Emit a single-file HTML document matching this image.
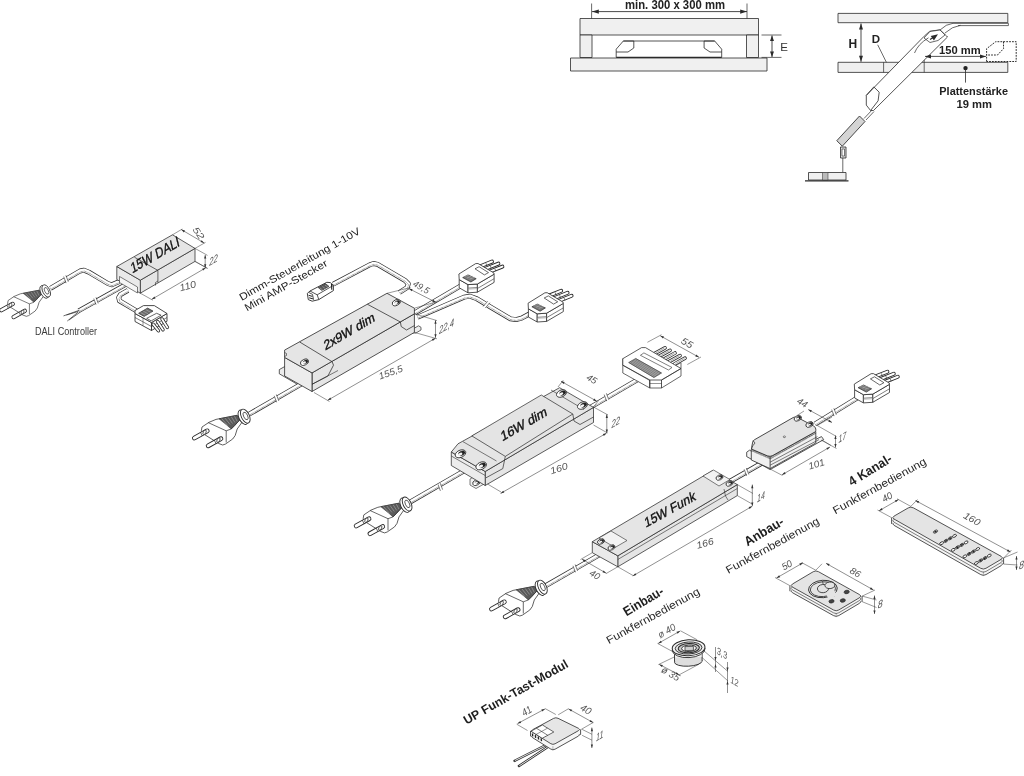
<!DOCTYPE html>
<html><head><meta charset="utf-8"><style>
html,body{margin:0;padding:0;background:#fff;}
svg{display:block;filter:grayscale(1);}
</style></head><body>
<svg width="1024" height="776" viewBox="0 0 1024 776" font-family="Liberation Sans, sans-serif">
<rect width="1024" height="776" fill="#fff"/>
<polygon points="580,18.5 758.5,18.5 758.5,35 580,35" fill="#f0f0f0" stroke="#2a2a2a" stroke-width="0.8" stroke-linejoin="round" />
<polygon points="580,35 592,35 592,57.5 580,57.5" fill="#f0f0f0" stroke="#2a2a2a" stroke-width="0.8" stroke-linejoin="round" />
<polygon points="746.5,35 758.5,35 758.5,57.5 746.5,57.5" fill="#f0f0f0" stroke="#2a2a2a" stroke-width="0.8" stroke-linejoin="round" />
<polygon points="570.5,58 767,58 767,71 570.5,71" fill="#f0f0f0" stroke="#2a2a2a" stroke-width="0.8" stroke-linejoin="round" />
<polyline points="616.2,57.4 616.2,49.2 623.3,41 714.7,41 721.7,49.2 721.7,57.4" fill="none" stroke="#2a2a2a" stroke-width="0.8" stroke-linejoin="round" />
<line x1="616.2" y1="57.4" x2="721.7" y2="57.4" stroke="#2a2a2a" stroke-width="1.4" />
<polyline points="623.3,41 633.8,41 633.8,48 628,52 616.2,52" fill="none" stroke="#2a2a2a" stroke-width="0.8" stroke-linejoin="round" />
<polyline points="714.7,41 704.1,41 704.1,48 710,52 721.7,52" fill="none" stroke="#2a2a2a" stroke-width="0.8" stroke-linejoin="round" />
<line x1="592" y1="11.6" x2="747" y2="11.6" stroke="#2a2a2a" stroke-width="0.85" />
<polygon points="747,11.6 740.2,13.7 740.2,9.5" fill="#2a2a2a"/>
<polygon points="592,11.6 598.8,9.5 598.8,13.7" fill="#2a2a2a"/>
<line x1="591.6" y1="3.5" x2="591.6" y2="18.5" stroke="#2a2a2a" stroke-width="0.7" />
<line x1="747" y1="3.5" x2="747" y2="18.5" stroke="#2a2a2a" stroke-width="0.7" />
<text x="625" y="8.5" font-family="Liberation Sans" font-size="12.6" font-weight="bold" font-style="normal" fill="#222" text-anchor="start" textLength="100" lengthAdjust="spacingAndGlyphs" >min. 300 x 300 mm</text>
<line x1="761.5" y1="35" x2="781.5" y2="35" stroke="#2a2a2a" stroke-width="0.7" />
<line x1="761.5" y1="57.4" x2="781.5" y2="57.4" stroke="#2a2a2a" stroke-width="0.7" />
<line x1="772" y1="35.5" x2="772" y2="57" stroke="#2a2a2a" stroke-width="0.85" />
<polygon points="772,57 770,51.5 774,51.5" fill="#2a2a2a"/>
<polygon points="772,35.5 774,41 770,41" fill="#2a2a2a"/>
<text x="780.2" y="51" font-family="Liberation Sans" font-size="11.5" font-weight="normal" font-style="normal" fill="#333" text-anchor="start" >E</text>
<polygon points="838,13.4 1007.8,13.4 1007.8,22.7 838,22.7" fill="#f0f0f0" stroke="#2a2a2a" stroke-width="0.8" stroke-linejoin="round" />
<polyline points="953,23.3 1008.4,23.3 1008.4,25.6 958,25.6" fill="none" stroke="#2a2a2a" stroke-width="0.7" stroke-linejoin="round" />
<polygon points="838,62.3 1007.8,62.3 1007.8,72.4 838,72.4" fill="#f0f0f0" stroke="#2a2a2a" stroke-width="0.8" stroke-linejoin="round" />
<line x1="883.6" y1="62.3" x2="883.6" y2="72.4" stroke="#2a2a2a" stroke-width="0.7" />
<line x1="924.2" y1="51.2" x2="924.2" y2="72.4" stroke="#2a2a2a" stroke-width="0.7" />
<polygon points="866.3,95.4 924.2,36.2 929.7,31.3 940,29.8 946.6,36 947.5,37 873.5,110.5 870.6,110.5 866.3,105.1" fill="#ffffff" stroke="#2a2a2a" stroke-width="0.8" stroke-linejoin="round" />
<polyline points="866.3,95.4 873.8,86.9 879.2,92.2 878.1,100.8 870.6,110.5" fill="none" stroke="#2a2a2a" stroke-width="0.8" stroke-linejoin="round" />
<polygon points="924,38 930,31.5 940,30 945,35 938,40.5 930,42.5" fill="#fff" stroke="#2a2a2a" stroke-width="0.7" stroke-linejoin="round" />
<polygon points="938,34.2 933.9,40.5 930.7,35.9" fill="#2a2a2a"/>
<line x1="930" y1="39.5" x2="934" y2="37" stroke="#2a2a2a" stroke-width="1.2" />
<path d="M914.5,53 Q918,44 928.5,37.8" fill="none" stroke="#2a2a2a" stroke-width="0.7" stroke-linejoin="round" />
<path d="M940,30 Q946,24 953,23.3" fill="none" stroke="#2a2a2a" stroke-width="0.7" stroke-linejoin="round" />
<path d="M945,33 Q952,26.5 960.5,25.3" fill="none" stroke="#2a2a2a" stroke-width="0.7" stroke-linejoin="round" />
<line x1="871.6" y1="110.5" x2="864" y2="118.5" stroke="#2a2a2a" stroke-width="0.7" />
<line x1="874" y1="111.5" x2="866" y2="120" stroke="#2a2a2a" stroke-width="0.7" />
<polygon points="859.5,116 865,121.5 842.3,146.2 836.8,140.7" fill="#d4d4d4" stroke="#2a2a2a" stroke-width="0.85" stroke-linejoin="round" />
<polygon points="840.5,147 846,147 846,158 840.5,158" fill="#ddd" stroke="#2a2a2a" stroke-width="0.8" stroke-linejoin="round" />
<polygon points="842,149 844.5,149 844.5,156 842,156" fill="#fff" stroke="#2a2a2a" stroke-width="0.6" stroke-linejoin="round" />
<line x1="842.8" y1="158" x2="842.8" y2="172.5" stroke="#2a2a2a" stroke-width="0.7" />
<polygon points="808.5,172.5 846,172.5 846,180 808.5,180" fill="#f0f0f0" stroke="#2a2a2a" stroke-width="0.8" stroke-linejoin="round" />
<polygon points="822.5,172.5 828,172.5 828,180 822.5,180" fill="#bbb" stroke="#2a2a2a" stroke-width="0.5" stroke-linejoin="round" />
<line x1="805" y1="180.8" x2="848.5" y2="180.8" stroke="#2a2a2a" stroke-width="1.2" />
<line x1="861" y1="23.5" x2="861" y2="61.8" stroke="#2a2a2a" stroke-width="0.85" />
<polygon points="861,61.8 859,55.8 863,55.8" fill="#2a2a2a"/>
<polygon points="861,23.5 863,29.5 859,29.5" fill="#2a2a2a"/>
<text x="848.4" y="48.2" font-family="Liberation Sans" font-size="12" font-weight="bold" font-style="normal" fill="#222" text-anchor="start" >H</text>
<text x="871.8" y="42.8" font-family="Liberation Sans" font-size="11.5" font-weight="bold" font-style="normal" fill="#222" text-anchor="start" >D</text>
<line x1="877.7" y1="44.8" x2="886.4" y2="62.3" stroke="#2a2a2a" stroke-width="0.7" />
<line x1="925" y1="56.4" x2="986" y2="56.4" stroke="#2a2a2a" stroke-width="0.8" />
<polygon points="986,56.4 980,58.4 980,54.4" fill="#2a2a2a"/>
<polygon points="925,56.4 931,54.4 931,58.4" fill="#2a2a2a"/>
<text x="939" y="54.4" font-family="Liberation Sans" font-size="11.2" font-weight="bold" font-style="normal" fill="#222" text-anchor="start" textLength="41.6" lengthAdjust="spacingAndGlyphs" >150 mm</text>
<polyline points="986.6,61.5 986.6,48.7 995.7,41.7 1016.2,41.7 1016.2,61.5 986.6,61.5" fill="none" stroke="#222" stroke-width="0.95" stroke-linejoin="round" stroke-dasharray="1.8,1.1"/>
<polyline points="1003.5,41.7 1003.5,48.7 997.5,55 986.6,55" fill="none" stroke="#222" stroke-width="0.95" stroke-linejoin="round" stroke-dasharray="1.8,1.1"/>
<circle cx="965.5" cy="68.1" r="2.2" fill="#222"/>
<line x1="965.5" y1="68.1" x2="965.5" y2="82.6" stroke="#2a2a2a" stroke-width="0.8" />
<text x="939.3" y="95.4" font-family="Liberation Sans" font-size="11.3" font-weight="bold" font-style="normal" fill="#222" text-anchor="start" textLength="68.7" lengthAdjust="spacingAndGlyphs" >Plattenstärke</text>
<text x="956.5" y="107.8" font-family="Liberation Sans" font-size="11.3" font-weight="bold" font-style="normal" fill="#222" text-anchor="start" textLength="35.5" lengthAdjust="spacingAndGlyphs" >19 mm</text>
<path d="M50.5,288.3 L80,271 L84,270.2 L88.9,272.2 L107.9,283.5 L111.7,284.8 L119.3,281.6" fill="none" stroke="#2a2a2a" stroke-width="4.9" stroke-linejoin="round" stroke-linecap="butt"/>
<path d="M50.5,288.3 L80,271 L84,270.2 L88.9,272.2 L107.9,283.5 L111.7,284.8 L119.3,281.6" fill="none" stroke="#fff" stroke-width="3.5" stroke-linejoin="round" stroke-linecap="butt"/>
<path d="M50.5,288.3 L80,271 L84,270.2 L88.9,272.2 L107.9,283.5 L111.7,284.8 L119.3,281.6" fill="none" stroke="#777" stroke-width="0.9" stroke-dasharray="0.8,0.6" stroke-linejoin="round" transform="translate(0.3,0.9)"/>
<polygon points="63.2,276.9 66.6,282.8 66.6,282.8 63.2,276.9" fill="none"/>
<polygon points="65.4,275.6 68.8,281.5 68.8,281.5 65.4,275.6" fill="none"/>
<polygon points="63.2,276.9 65.4,275.6 68.8,281.5 66.6,282.8" fill="#fff"/>
<line x1="63.7" y1="276.6" x2="66.1" y2="283.1" stroke="#2a2a2a" stroke-width="0.6" />
<line x1="65.9" y1="275.3" x2="68.3" y2="281.8" stroke="#2a2a2a" stroke-width="0.6" />
<path d="M127,283.8 L78.7,310.8" fill="none" stroke="#2a2a2a" stroke-width="4.5" stroke-linejoin="round" stroke-linecap="butt"/>
<path d="M127,283.8 L78.7,310.8" fill="none" stroke="#fff" stroke-width="3.1" stroke-linejoin="round" stroke-linecap="butt"/>
<path d="M127,283.8 L78.7,310.8" fill="none" stroke="#777" stroke-width="0.9" stroke-dasharray="0.8,0.6" stroke-linejoin="round" transform="translate(0.3,0.9)"/>
<polygon points="93.3,298.9 96.5,304.4 96.5,304.4 93.3,298.9" fill="none"/>
<polygon points="95.5,297.6 98.7,303.1 98.7,303.1 95.5,297.6" fill="none"/>
<polygon points="93.3,298.9 95.5,297.6 98.7,303.1 96.5,304.4" fill="#fff"/>
<line x1="93.8" y1="298.6" x2="96" y2="304.7" stroke="#2a2a2a" stroke-width="0.6" />
<line x1="96" y1="297.3" x2="98.2" y2="303.4" stroke="#2a2a2a" stroke-width="0.6" />
<line x1="79.5" y1="310.2" x2="63.5" y2="315.9" stroke="#2a2a2a" stroke-width="0.7" />
<line x1="78" y1="311.5" x2="66.5" y2="315" stroke="#2a2a2a" stroke-width="0.7" />
<line x1="78.5" y1="311.8" x2="67.3" y2="321" stroke="#2a2a2a" stroke-width="0.7" />
<line x1="80" y1="312.3" x2="69" y2="320" stroke="#2a2a2a" stroke-width="0.7" />
<path d="M128,290.3 L120.5,294.6 L118.7,297.5 L119.5,300.8 L137.5,311.5" fill="none" stroke="#2a2a2a" stroke-width="4.9" stroke-linejoin="round" stroke-linecap="butt"/>
<path d="M128,290.3 L120.5,294.6 L118.7,297.5 L119.5,300.8 L137.5,311.5" fill="none" stroke="#fff" stroke-width="3.5" stroke-linejoin="round" stroke-linecap="butt"/>
<path d="M128,290.3 L120.5,294.6 L118.7,297.5 L119.5,300.8 L137.5,311.5" fill="none" stroke="#777" stroke-width="0.9" stroke-dasharray="0.8,0.6" stroke-linejoin="round" transform="translate(0.3,0.9)"/>
<g transform="translate(45.7,291.7) scale(0.88)">
<polygon points="-42.7,10 -35.7,5.3 -28.7,2.4 -25.7,1.8 -7.6,-1.7 -2.5,5 -7.5,12 -9.5,18.5 -12,22 -19.3,27.1 -22,28 -26,26.5 -41,17 -43.3,13.5" fill="#fff" stroke="#2a2a2a" stroke-width="0.75" stroke-linejoin="round" />
<polygon points="-25.7,1.8 -7.6,-1.7 -4.5,2.5 -10,8.5 -13.5,12 -18,8" fill="#5a5a5a" stroke="#2a2a2a" stroke-width="0.5" stroke-linejoin="round" />
<line x1="-23" y1="1.6" x2="-17" y2="8.5" stroke="#bbb" stroke-width="0.5" />
<line x1="-19.8" y1="1" x2="-14.6" y2="7.5" stroke="#bbb" stroke-width="0.5" />
<line x1="-16.6" y1="0.4" x2="-12.2" y2="6.5" stroke="#bbb" stroke-width="0.5" />
<line x1="-13.4" y1="-0.2" x2="-9.8" y2="5.5" stroke="#bbb" stroke-width="0.5" />
<line x1="-10.2" y1="-0.8" x2="-7.4" y2="4.5" stroke="#bbb" stroke-width="0.5" />
<polyline points="-36.5,5.6 -18.5,13.8 -13.5,12" fill="none" stroke="#2a2a2a" stroke-width="0.7" stroke-linejoin="round" />
<line x1="-18.5" y1="13.8" x2="-18.5" y2="25.5" stroke="#2a2a2a" stroke-width="0.7" />
<polyline points="-13.5,12 -10,8.5 -4.5,2.5" fill="none" stroke="#2a2a2a" stroke-width="0.7" stroke-linejoin="round" />
<ellipse cx="-1.6" cy="0.2" rx="4.2" ry="7.8" transform="rotate(-26 -1.6 0.2)" fill="#fff" stroke="#2a2a2a" stroke-width="0.9"/>
<ellipse cx="0.6" cy="-0.9" rx="4" ry="7.5" transform="rotate(-26 0.6 -0.9)" fill="#fff" stroke="#2a2a2a" stroke-width="0.9"/>
<ellipse cx="0.9" cy="-1" rx="2" ry="4.1" transform="rotate(-26 0.9 -1)" fill="#fff" stroke="#2a2a2a" stroke-width="0.7"/>
<line x1="-50.3" y1="21" x2="-37.5" y2="13.9" stroke="#2a2a2a" stroke-width="4.8" stroke-linecap="round"/>
<line x1="-50.3" y1="21" x2="-37.5" y2="13.9" stroke="#fff" stroke-width="3.0" stroke-linecap="round"/>
<line x1="-44.2" y1="15.2" x2="-42.4" y2="19" stroke="#2a2a2a" stroke-width="0.7" />
<ellipse cx="-40.1" cy="15.3" rx="1.3" ry="2.5" transform="rotate(28 -40.1 15.3)" fill="#fff" stroke="#2a2a2a" stroke-width="0.7"/>
<line x1="-36.5" y1="28.8" x2="-23.8" y2="21.7" stroke="#2a2a2a" stroke-width="4.8" stroke-linecap="round"/>
<line x1="-36.5" y1="28.8" x2="-23.8" y2="21.7" stroke="#fff" stroke-width="3.0" stroke-linecap="round"/>
<line x1="-30.4" y1="23" x2="-28.6" y2="26.8" stroke="#2a2a2a" stroke-width="0.7" />
<ellipse cx="-26.3" cy="23.1" rx="1.3" ry="2.5" transform="rotate(28 -26.3 23.1)" fill="#fff" stroke="#2a2a2a" stroke-width="0.7"/>
</g>
<polygon points="140.3,280.2 195,248.4 195,261.4 140.3,293.2" fill="#e5e5e5" stroke="#2a2a2a" stroke-width="0.75" stroke-linejoin="round" />
<polygon points="116.8,266.5 140.3,280.2 140.3,293.2 116.8,279.5" fill="#eaeaea" stroke="#2a2a2a" stroke-width="0.75" stroke-linejoin="round" />
<polygon points="116.8,266.5 172.5,234.8 195,248.4 140.3,280.2" fill="#e5e5e5" stroke="#2a2a2a" stroke-width="0.75" stroke-linejoin="round" />
<polygon points="119.5,276.5 137.5,287 137.5,293 119.5,282.5" fill="#f6f6f6" stroke="#2a2a2a" stroke-width="0.6" stroke-linejoin="round" />
<line x1="134.4" y1="257.2" x2="157.9" y2="270.4" stroke="#2a2a2a" stroke-width="0.7" />
<line x1="157.9" y1="270.4" x2="157.9" y2="282.6" stroke="#2a2a2a" stroke-width="0.7" />
<polyline points="157.9,281 155.5,282.5 155.5,285.5" fill="none" stroke="#2a2a2a" stroke-width="0.6" stroke-linejoin="round" />
<text x="132.2" y="273.5" font-family="Liberation Sans" font-size="13.7" font-weight="normal" font-style="normal" fill="#111" text-anchor="start" textLength="55.5" lengthAdjust="spacingAndGlyphs" transform="translate(132.2,273.5) rotate(-30.1) skewX(-16) translate(-132.2,-273.5)" stroke="#111" stroke-width="0.35">15W DALI</text>
<polygon points="135,313.5 151.5,322.5 151.5,330.5 135,321.5" fill="#fff" stroke="#2a2a2a" stroke-width="0.85" stroke-linejoin="round" />
<polygon points="151.5,322.5 167,313.5 167,321.3 151.5,330.5" fill="#fff" stroke="#2a2a2a" stroke-width="0.85" stroke-linejoin="round" />
<polygon points="135,310.5 143.5,305.6 154.3,305.6 167,313.5 151.5,322.5 135,313.5" fill="#fff" stroke="#2a2a2a" stroke-width="0.85" stroke-linejoin="round" />
<polygon points="138.6,313.3 147.6,308.1 153,311.1 144.2,316.4" fill="#6e6e6e" stroke="#2a2a2a" stroke-width="0.7" stroke-linejoin="round" />
<line x1="140.6" y1="312.6" x2="145.6" y2="315.4" stroke="#ccc" stroke-width="0.45" />
<line x1="143.2" y1="311.1" x2="148.2" y2="313.9" stroke="#ccc" stroke-width="0.45" />
<line x1="145.8" y1="309.6" x2="150.8" y2="312.4" stroke="#ccc" stroke-width="0.45" />
<polygon points="146.7,318.3 156.6,313.3 161.1,315.2 151.2,320.9" fill="#fff" stroke="#2a2a2a" stroke-width="0.7" stroke-linejoin="round" />
<line x1="135" y1="317.5" x2="151.5" y2="326.5" stroke="#2a2a2a" stroke-width="0.6" />
<line x1="151.5" y1="326.5" x2="167" y2="317.5" stroke="#2a2a2a" stroke-width="0.6" />
<line x1="143" y1="318" x2="143" y2="325.6" stroke="#2a2a2a" stroke-width="0.5" />
<line x1="153.2" y1="324.2" x2="158.4" y2="330.8" stroke="#2a2a2a" stroke-width="3.4" stroke-linecap="round"/>
<line x1="153.2" y1="324.2" x2="158.4" y2="330.8" stroke="#fff" stroke-width="1.8" stroke-linecap="round"/>
<line x1="157.6" y1="321.6" x2="163.0" y2="329.8" stroke="#2a2a2a" stroke-width="3.4" stroke-linecap="round"/>
<line x1="157.6" y1="321.6" x2="163.0" y2="329.8" stroke="#fff" stroke-width="1.8" stroke-linecap="round"/>
<line x1="162.0" y1="319.0" x2="167.4" y2="327.4" stroke="#2a2a2a" stroke-width="3.4" stroke-linecap="round"/>
<line x1="162.0" y1="319.0" x2="167.4" y2="327.4" stroke="#fff" stroke-width="1.8" stroke-linecap="round"/>
<line x1="172.5" y1="234.8" x2="182.3" y2="229" stroke="#333" stroke-width="0.5" />
<line x1="195" y1="248.4" x2="205.5" y2="242.4" stroke="#333" stroke-width="0.5" />
<line x1="181.3" y1="229.6" x2="204.2" y2="243" stroke="#333" stroke-width="0.55" />
<polygon points="204.2,243 200.5,242.1 201.6,240.2" fill="#333"/>
<polygon points="181.3,229.6 185,230.5 183.9,232.4" fill="#333"/>
<text x="192.3" y="229.4" font-family="Liberation Sans" font-size="9.1" font-weight="normal" font-style="italic" fill="#555" text-anchor="start" textLength="13.2" lengthAdjust="spacingAndGlyphs" transform="rotate(56 192.3 229.4)" >52</text>
<line x1="195" y1="248.4" x2="207.5" y2="255.4" stroke="#333" stroke-width="0.5" />
<line x1="195" y1="261.4" x2="207.5" y2="268.4" stroke="#333" stroke-width="0.5" />
<line x1="205.2" y1="255" x2="205.2" y2="267.8" stroke="#333" stroke-width="0.55" />
<polygon points="205.2,267.8 204.1,264.2 206.3,264.2" fill="#333"/>
<polygon points="205.2,255 206.3,258.6 204.1,258.6" fill="#333"/>
<text x="209.3" y="266" font-family="Liberation Sans" font-size="10.6" font-style="italic" fill="#555" textLength="8.6" lengthAdjust="spacingAndGlyphs" transform="translate(209.3,266) skewY(-30) translate(-209.3,-266)">22</text>
<line x1="140.3" y1="293.2" x2="152.8" y2="300.2" stroke="#333" stroke-width="0.5" />
<line x1="195" y1="261.4" x2="207.5" y2="268.4" stroke="#333" stroke-width="0.5" />
<line x1="151.8" y1="299.3" x2="205.8" y2="267.8" stroke="#333" stroke-width="0.55" />
<polygon points="205.8,267.8 203.2,270.6 202.1,268.7" fill="#333"/>
<polygon points="151.8,299.3 154.4,296.5 155.5,298.4" fill="#333"/>
<text x="180.5" y="291.2" font-family="Liberation Sans" font-size="9.7" font-weight="normal" font-style="italic" fill="#555" text-anchor="start" textLength="16.8" lengthAdjust="spacingAndGlyphs" transform="rotate(-14.9 180.5 291.2)" >110</text>
<text x="34.9" y="334.9" font-family="Liberation Sans" font-size="10.6" font-weight="normal" font-style="normal" fill="#3a3a3a" text-anchor="start" textLength="62.2" lengthAdjust="spacingAndGlyphs" >DALI Controller</text>
<path d="M248.5,414.5 L304,382.5" fill="none" stroke="#2a2a2a" stroke-width="4.9" stroke-linejoin="round" stroke-linecap="butt"/>
<path d="M248.5,414.5 L304,382.5" fill="none" stroke="#fff" stroke-width="3.5" stroke-linejoin="round" stroke-linecap="butt"/>
<path d="M248.5,414.5 L304,382.5" fill="none" stroke="#777" stroke-width="0.9" stroke-dasharray="0.8,0.6" stroke-linejoin="round" transform="translate(0.3,0.9)"/>
<polygon points="273.7,396.1 277.1,402 277.1,402 273.7,396.1" fill="none"/>
<polygon points="275.9,394.8 279.3,400.7 279.3,400.7 275.9,394.8" fill="none"/>
<polygon points="273.7,396.1 275.9,394.8 279.3,400.7 277.1,402" fill="#fff"/>
<line x1="274.2" y1="395.8" x2="276.6" y2="402.3" stroke="#2a2a2a" stroke-width="0.6" />
<line x1="276.4" y1="394.5" x2="278.8" y2="401" stroke="#2a2a2a" stroke-width="0.6" />
<path d="M333.2,284.2 L369.7,264.8 L373.5,263.5 L377.5,264.3 L404.8,280.3 L408.3,283.8 L407.2,287.5 L399.4,292.5" fill="none" stroke="#2a2a2a" stroke-width="4.9" stroke-linejoin="round" stroke-linecap="butt"/>
<path d="M333.2,284.2 L369.7,264.8 L373.5,263.5 L377.5,264.3 L404.8,280.3 L408.3,283.8 L407.2,287.5 L399.4,292.5" fill="none" stroke="#fff" stroke-width="3.5" stroke-linejoin="round" stroke-linecap="butt"/>
<path d="M333.2,284.2 L369.7,264.8 L373.5,263.5 L377.5,264.3 L404.8,280.3 L408.3,283.8 L407.2,287.5 L399.4,292.5" fill="none" stroke="#777" stroke-width="0.9" stroke-dasharray="0.8,0.6" stroke-linejoin="round" transform="translate(0.3,0.9)"/>
<path d="M414.8,312.8 L461.3,285.5" fill="none" stroke="#2a2a2a" stroke-width="4.9" stroke-linejoin="round" stroke-linecap="butt"/>
<path d="M414.8,312.8 L461.3,285.5" fill="none" stroke="#fff" stroke-width="3.5" stroke-linejoin="round" stroke-linecap="butt"/>
<path d="M414.8,312.8 L461.3,285.5" fill="none" stroke="#777" stroke-width="0.9" stroke-dasharray="0.8,0.6" stroke-linejoin="round" transform="translate(0.3,0.9)"/>
<path d="M417.6,317.2 L464,297.2 L470,296.2 L477,298.8 L491.9,307.8 L510.5,318.8 L516,319.6 L521.5,318.2 L531.2,313" fill="none" stroke="#2a2a2a" stroke-width="4.9" stroke-linejoin="round" stroke-linecap="butt"/>
<path d="M417.6,317.2 L464,297.2 L470,296.2 L477,298.8 L491.9,307.8 L510.5,318.8 L516,319.6 L521.5,318.2 L531.2,313" fill="none" stroke="#fff" stroke-width="3.5" stroke-linejoin="round" stroke-linecap="butt"/>
<path d="M417.6,317.2 L464,297.2 L470,296.2 L477,298.8 L491.9,307.8 L510.5,318.8 L516,319.6 L521.5,318.2 L531.2,313" fill="none" stroke="#777" stroke-width="0.9" stroke-dasharray="0.8,0.6" stroke-linejoin="round" transform="translate(0.3,0.9)"/>
<polygon points="487.1,301 483.6,306.8 483.6,306.8 487.1,301" fill="none"/>
<polygon points="489.4,302.4 485.9,308.2 485.9,308.2 489.4,302.4" fill="none"/>
<polygon points="487.1,301 489.4,302.4 485.9,308.2 483.6,306.8" fill="#fff"/>
<line x1="487.7" y1="301.3" x2="483.1" y2="306.5" stroke="#2a2a2a" stroke-width="0.6" />
<line x1="489.9" y1="302.7" x2="485.3" y2="307.9" stroke="#2a2a2a" stroke-width="0.6" />
<g transform="translate(244.7,417) scale(1.0)">
<polygon points="-42.7,10 -35.7,5.3 -28.7,2.4 -25.7,1.8 -7.6,-1.7 -2.5,5 -7.5,12 -9.5,18.5 -12,22 -19.3,27.1 -22,28 -26,26.5 -41,17 -43.3,13.5" fill="#fff" stroke="#2a2a2a" stroke-width="0.75" stroke-linejoin="round" />
<polygon points="-25.7,1.8 -7.6,-1.7 -4.5,2.5 -10,8.5 -13.5,12 -18,8" fill="#5a5a5a" stroke="#2a2a2a" stroke-width="0.5" stroke-linejoin="round" />
<line x1="-23" y1="1.6" x2="-17" y2="8.5" stroke="#bbb" stroke-width="0.5" />
<line x1="-19.8" y1="1" x2="-14.6" y2="7.5" stroke="#bbb" stroke-width="0.5" />
<line x1="-16.6" y1="0.4" x2="-12.2" y2="6.5" stroke="#bbb" stroke-width="0.5" />
<line x1="-13.4" y1="-0.2" x2="-9.8" y2="5.5" stroke="#bbb" stroke-width="0.5" />
<line x1="-10.2" y1="-0.8" x2="-7.4" y2="4.5" stroke="#bbb" stroke-width="0.5" />
<polyline points="-36.5,5.6 -18.5,13.8 -13.5,12" fill="none" stroke="#2a2a2a" stroke-width="0.7" stroke-linejoin="round" />
<line x1="-18.5" y1="13.8" x2="-18.5" y2="25.5" stroke="#2a2a2a" stroke-width="0.7" />
<polyline points="-13.5,12 -10,8.5 -4.5,2.5" fill="none" stroke="#2a2a2a" stroke-width="0.7" stroke-linejoin="round" />
<ellipse cx="-1.6" cy="0.2" rx="4.2" ry="7.8" transform="rotate(-26 -1.6 0.2)" fill="#fff" stroke="#2a2a2a" stroke-width="0.9"/>
<ellipse cx="0.6" cy="-0.9" rx="4" ry="7.5" transform="rotate(-26 0.6 -0.9)" fill="#fff" stroke="#2a2a2a" stroke-width="0.9"/>
<ellipse cx="0.9" cy="-1" rx="2" ry="4.1" transform="rotate(-26 0.9 -1)" fill="#fff" stroke="#2a2a2a" stroke-width="0.7"/>
<line x1="-50.3" y1="21" x2="-37.5" y2="13.9" stroke="#2a2a2a" stroke-width="4.8" stroke-linecap="round"/>
<line x1="-50.3" y1="21" x2="-37.5" y2="13.9" stroke="#fff" stroke-width="3.0" stroke-linecap="round"/>
<line x1="-44.2" y1="15.2" x2="-42.4" y2="19" stroke="#2a2a2a" stroke-width="0.7" />
<ellipse cx="-40.1" cy="15.3" rx="1.3" ry="2.5" transform="rotate(28 -40.1 15.3)" fill="#fff" stroke="#2a2a2a" stroke-width="0.7"/>
<line x1="-36.5" y1="28.8" x2="-23.8" y2="21.7" stroke="#2a2a2a" stroke-width="4.8" stroke-linecap="round"/>
<line x1="-36.5" y1="28.8" x2="-23.8" y2="21.7" stroke="#fff" stroke-width="3.0" stroke-linecap="round"/>
<line x1="-30.4" y1="23" x2="-28.6" y2="26.8" stroke="#2a2a2a" stroke-width="0.7" />
<ellipse cx="-26.3" cy="23.1" rx="1.3" ry="2.5" transform="rotate(28 -26.3 23.1)" fill="#fff" stroke="#2a2a2a" stroke-width="0.7"/>
</g>
<polygon points="279.3,369.6 284.6,366.6 301.5,376.4 301.5,381 296.5,383.8 279.3,373.8" fill="#ececec" stroke="#2a2a2a" stroke-width="0.75" stroke-linejoin="round" />
<polygon points="290.2,373.2 292.4,371.9 296.2,374.1 294,375.4" fill="#fff" stroke="#2a2a2a" stroke-width="0.6" stroke-linejoin="round" />
<polygon points="412,329.5 418.5,325.8 421,327.3 421,330 416,333 412,333" fill="#ececec" stroke="#2a2a2a" stroke-width="0.7" stroke-linejoin="round" />
<polygon points="312,372.9 414.4,313.8 414.4,332.4 312,391.5" fill="#e5e5e5" stroke="#2a2a2a" stroke-width="0.8" stroke-linejoin="round" />
<polygon points="284.6,357.4 312,372.9 312,391.5 284.6,376" fill="#ececec" stroke="#2a2a2a" stroke-width="0.8" stroke-linejoin="round" />
<polygon points="284.6,350.1 387,293.3 414.4,308.2 414.4,313.8 312,372.9 284.6,357.4" fill="#e5e5e5" stroke="#2a2a2a" stroke-width="0.8" stroke-linejoin="round" />
<line x1="299.7" y1="342" x2="332.1" y2="361.7" stroke="#2a2a2a" stroke-width="0.75" />
<line x1="367.3" y1="304.2" x2="400.4" y2="322" stroke="#2a2a2a" stroke-width="0.75" />
<polyline points="332.1,361.7 333.5,365.2 327.9,376 312,384.3" fill="none" stroke="#2a2a2a" stroke-width="0.75" stroke-linejoin="round" />
<polyline points="400.4,322 401.2,326.5 406.5,330 414.4,325.6" fill="none" stroke="#2a2a2a" stroke-width="0.75" stroke-linejoin="round" />
<line x1="312" y1="384.3" x2="338" y2="370.5" stroke="#2a2a2a" stroke-width="0.6" />
<polyline points="284.6,352.5 286.5,353.5 286.5,355.5 284.6,356.5" fill="none" stroke="#2a2a2a" stroke-width="0.6" stroke-linejoin="round" />
<ellipse cx="304.5" cy="362.2" rx="4.3" ry="2.8" transform="rotate(-25 304.5 362.2)" fill="#fff" stroke="#2a2a2a" stroke-width="0.8"/>
<ellipse cx="305.5" cy="361.8" rx="2.7" ry="1.7" transform="rotate(-25 305.5 361.8)" fill="#222" stroke="#2a2a2a" stroke-width="0.3"/>
<ellipse cx="304.3" cy="362.5" rx="1.8" ry="1.1" transform="rotate(-25 304.3 362.5)" fill="#f4f4f4" stroke="#2a2a2a" stroke-width="0"/>
<ellipse cx="396.3" cy="302.6" rx="4.3" ry="2.8" transform="rotate(-25 396.3 302.6)" fill="#fff" stroke="#2a2a2a" stroke-width="0.8"/>
<ellipse cx="397.3" cy="302.2" rx="2.7" ry="1.7" transform="rotate(-25 397.3 302.2)" fill="#222" stroke="#2a2a2a" stroke-width="0.3"/>
<ellipse cx="396.1" cy="302.9" rx="1.8" ry="1.1" transform="rotate(-25 396.1 302.9)" fill="#f4f4f4" stroke="#2a2a2a" stroke-width="0"/>
<text x="325.2" y="350.6" font-family="Liberation Sans" font-size="12.6" font-weight="normal" font-style="normal" fill="#111" text-anchor="start" textLength="58.4" lengthAdjust="spacingAndGlyphs" transform="translate(325.2,350.6) rotate(-30.9) skewX(-16) translate(-325.2,-350.6)" stroke="#111" stroke-width="0.35">2x9W dim</text>
<polygon points="307.3,293.4 310,291 326.8,282.3 330.3,282.6 333.4,285.4 333.4,290.6 318.8,299.6 312.2,301.2 308.3,299.6" fill="#fff" stroke="#2a2a2a" stroke-width="0.9" stroke-linejoin="round" />
<polyline points="310,291 317.2,294.8 333.4,285.4" fill="none" stroke="#2a2a2a" stroke-width="0.8" stroke-linejoin="round" />
<line x1="317.2" y1="294.8" x2="318.8" y2="299.6" stroke="#2a2a2a" stroke-width="0.8" />
<polygon points="318.2,287.6 325.4,283.6 329,286.4 321.8,290.4" fill="#5a5a5a" stroke="#2a2a2a" stroke-width="0.6" stroke-linejoin="round" />
<line x1="319.8" y1="287.9" x2="322.8" y2="290.1" stroke="#ccc" stroke-width="0.45" />
<line x1="322.4" y1="286.5" x2="325.4" y2="288.7" stroke="#ccc" stroke-width="0.45" />
<line x1="325" y1="285.1" x2="328" y2="287.3" stroke="#ccc" stroke-width="0.45" />
<polyline points="309,292.6 312.5,294.4 313.6,299.8" fill="none" stroke="#2a2a2a" stroke-width="0.8" stroke-linejoin="round" />
<line x1="308.6" y1="295.3" x2="312.4" y2="296.4" stroke="#222" stroke-width="1.0" />
<line x1="309.2" y1="297.8" x2="313" y2="298.9" stroke="#222" stroke-width="1.0" />
<line x1="331.5" y1="283.9" x2="331.8" y2="289.8" stroke="#222" stroke-width="1.1" />
<g transform="translate(458.9,274) scale(1.0)">
<line x1="21.5" y1="-7.8" x2="33.1" y2="-12.4" stroke="#2a2a2a" stroke-width="3.9" stroke-linecap="round"/>
<line x1="21.5" y1="-7.8" x2="33.1" y2="-12.4" stroke="#fff" stroke-width="2.1" stroke-linecap="round"/>
<line x1="27" y1="-10.8" x2="27.9" y2="-8.4" stroke="#2a2a2a" stroke-width="0.6" />
<line x1="26" y1="-5" x2="39.5" y2="-10.4" stroke="#2a2a2a" stroke-width="3.9" stroke-linecap="round"/>
<line x1="26" y1="-5" x2="39.5" y2="-10.4" stroke="#fff" stroke-width="2.1" stroke-linecap="round"/>
<line x1="31.5" y1="-8" x2="32.4" y2="-5.6" stroke="#2a2a2a" stroke-width="0.6" />
<line x1="30.5" y1="-2.2" x2="43.5" y2="-7.4" stroke="#2a2a2a" stroke-width="3.9" stroke-linecap="round"/>
<line x1="30.5" y1="-2.2" x2="43.5" y2="-7.4" stroke="#fff" stroke-width="2.1" stroke-linecap="round"/>
<line x1="36" y1="-5.2" x2="36.9" y2="-2.8" stroke="#2a2a2a" stroke-width="0.6" />
<polygon points="0.3,5.6 9.1,10.6 9.1,18.8 0.3,13.8" fill="#fff" stroke="#2a2a2a" stroke-width="0.8" stroke-linejoin="round" />
<polygon points="9.1,10.6 18.5,10 18.5,18.2 9.1,18.8" fill="#fff" stroke="#2a2a2a" stroke-width="0.8" stroke-linejoin="round" />
<polygon points="18.5,10 35.2,0.2 35.2,8.4 18.5,18.2" fill="#fff" stroke="#2a2a2a" stroke-width="0.8" stroke-linejoin="round" />
<polygon points="0,0 16.8,-10.4 19.1,-10.5 34.9,-1.1 35.2,0.2 18.5,10 9.1,10.6 0.3,5.6" fill="#fff" stroke="#2a2a2a" stroke-width="0.8" stroke-linejoin="round" />
<line x1="9.1" y1="14.1" x2="18.5" y2="13.5" stroke="#666" stroke-width="0.8" />
<line x1="9.1" y1="15.2" x2="18.5" y2="14.6" stroke="#999" stroke-width="0.6" />
<line x1="18.5" y1="14.5" x2="35.2" y2="4.7" stroke="#2a2a2a" stroke-width="0.6" />
<polygon points="3.8,3.6 9.1,0.9 17.3,4.7 12,8" fill="#7a7a7a" stroke="#2a2a2a" stroke-width="0.7" stroke-linejoin="round" />
<line x1="5.5" y1="2.8" x2="10.8" y2="0.5" stroke="#ddd" stroke-width="0.4" />
<line x1="8.1" y1="4" x2="13.4" y2="1.7" stroke="#ddd" stroke-width="0.4" />
<line x1="10.7" y1="5.2" x2="16" y2="2.9" stroke="#ddd" stroke-width="0.4" />
<polygon points="16.1,-5.2 20.2,-7.3 29.6,-1.4 25.5,0.9" fill="#fff" stroke="#2a2a2a" stroke-width="0.7" stroke-linejoin="round" />
</g>
<g transform="translate(528.1,303.2) scale(1.0)">
<line x1="21.5" y1="-7.8" x2="33.1" y2="-12.4" stroke="#2a2a2a" stroke-width="3.9" stroke-linecap="round"/>
<line x1="21.5" y1="-7.8" x2="33.1" y2="-12.4" stroke="#fff" stroke-width="2.1" stroke-linecap="round"/>
<line x1="27" y1="-10.8" x2="27.9" y2="-8.4" stroke="#2a2a2a" stroke-width="0.6" />
<line x1="26" y1="-5" x2="39.5" y2="-10.4" stroke="#2a2a2a" stroke-width="3.9" stroke-linecap="round"/>
<line x1="26" y1="-5" x2="39.5" y2="-10.4" stroke="#fff" stroke-width="2.1" stroke-linecap="round"/>
<line x1="31.5" y1="-8" x2="32.4" y2="-5.6" stroke="#2a2a2a" stroke-width="0.6" />
<line x1="30.5" y1="-2.2" x2="43.5" y2="-7.4" stroke="#2a2a2a" stroke-width="3.9" stroke-linecap="round"/>
<line x1="30.5" y1="-2.2" x2="43.5" y2="-7.4" stroke="#fff" stroke-width="2.1" stroke-linecap="round"/>
<line x1="36" y1="-5.2" x2="36.9" y2="-2.8" stroke="#2a2a2a" stroke-width="0.6" />
<polygon points="0.3,5.6 9.1,10.6 9.1,18.8 0.3,13.8" fill="#fff" stroke="#2a2a2a" stroke-width="0.8" stroke-linejoin="round" />
<polygon points="9.1,10.6 18.5,10 18.5,18.2 9.1,18.8" fill="#fff" stroke="#2a2a2a" stroke-width="0.8" stroke-linejoin="round" />
<polygon points="18.5,10 35.2,0.2 35.2,8.4 18.5,18.2" fill="#fff" stroke="#2a2a2a" stroke-width="0.8" stroke-linejoin="round" />
<polygon points="0,0 16.8,-10.4 19.1,-10.5 34.9,-1.1 35.2,0.2 18.5,10 9.1,10.6 0.3,5.6" fill="#fff" stroke="#2a2a2a" stroke-width="0.8" stroke-linejoin="round" />
<line x1="9.1" y1="14.1" x2="18.5" y2="13.5" stroke="#666" stroke-width="0.8" />
<line x1="9.1" y1="15.2" x2="18.5" y2="14.6" stroke="#999" stroke-width="0.6" />
<line x1="18.5" y1="14.5" x2="35.2" y2="4.7" stroke="#2a2a2a" stroke-width="0.6" />
<polygon points="3.8,3.6 9.1,0.9 17.3,4.7 12,8" fill="#7a7a7a" stroke="#2a2a2a" stroke-width="0.7" stroke-linejoin="round" />
<line x1="5.5" y1="2.8" x2="10.8" y2="0.5" stroke="#ddd" stroke-width="0.4" />
<line x1="8.1" y1="4" x2="13.4" y2="1.7" stroke="#ddd" stroke-width="0.4" />
<line x1="10.7" y1="5.2" x2="16" y2="2.9" stroke="#ddd" stroke-width="0.4" />
<polygon points="16.1,-5.2 20.2,-7.3 29.6,-1.4 25.5,0.9" fill="#fff" stroke="#2a2a2a" stroke-width="0.7" stroke-linejoin="round" />
</g>
<text x="241.8" y="301" font-family="Liberation Sans" font-size="10.3" font-weight="normal" font-style="normal" fill="#222" text-anchor="start" textLength="137" lengthAdjust="spacingAndGlyphs" transform="rotate(-29.6 241.8 301)" >Dimm-Steuerleitung 1-10V</text>
<text x="247" y="311.6" font-family="Liberation Sans" font-size="10.3" font-weight="normal" font-style="normal" fill="#222" text-anchor="start" textLength="93.5" lengthAdjust="spacingAndGlyphs" transform="rotate(-29.6 247 311.6)" >Mini AMP-Stecker</text>
<line x1="387" y1="293.3" x2="410.5" y2="287.5" stroke="#333" stroke-width="0.5" />
<line x1="414.4" y1="308.2" x2="437.5" y2="301.5" stroke="#333" stroke-width="0.5" />
<line x1="408.9" y1="288.6" x2="435.9" y2="302.3" stroke="#333" stroke-width="0.55" />
<polygon points="435.9,302.3 432.2,301.7 433.2,299.7" fill="#333"/>
<polygon points="408.9,288.6 412.6,289.2 411.6,291.2" fill="#333"/>
<text x="412.2" y="285.4" font-family="Liberation Sans" font-size="9.2" font-weight="normal" font-style="italic" fill="#555" text-anchor="start" textLength="17.5" lengthAdjust="spacingAndGlyphs" transform="rotate(30 412.2 285.4)" >49,5</text>
<line x1="414.4" y1="332.4" x2="437" y2="338.8" stroke="#333" stroke-width="0.5" />
<line x1="414.4" y1="313.8" x2="437" y2="320.6" stroke="#333" stroke-width="0.5" />
<line x1="435.5" y1="320.2" x2="435.5" y2="337.8" stroke="#333" stroke-width="0.55" />
<polygon points="435.5,337.8 434.4,334.2 436.6,334.2" fill="#333"/>
<polygon points="435.5,320.2 436.6,323.8 434.4,323.8" fill="#333"/>
<text x="439" y="334.2" font-family="Liberation Sans" font-size="10.6" font-style="italic" fill="#555" textLength="15.2" lengthAdjust="spacingAndGlyphs" transform="translate(439,334.2) skewY(-30) translate(-439,-334.2)">22,4</text>
<line x1="314" y1="392.5" x2="329.5" y2="401.5" stroke="#333" stroke-width="0.5" />
<line x1="327.7" y1="400.3" x2="435.5" y2="338.2" stroke="#333" stroke-width="0.55" />
<polygon points="435.5,338.2 432.9,341 431.8,339" fill="#333"/>
<polygon points="327.7,400.3 330.3,397.5 331.4,399.5" fill="#333"/>
<text x="380" y="379.6" font-family="Liberation Sans" font-size="9.4" font-weight="normal" font-style="italic" fill="#555" text-anchor="start" textLength="25.1" lengthAdjust="spacingAndGlyphs" transform="rotate(-19.8 380 379.6)" >155,5</text>
<path d="M410.5,501.8 L466.5,469.5" fill="none" stroke="#2a2a2a" stroke-width="4.9" stroke-linejoin="round" stroke-linecap="butt"/>
<path d="M410.5,501.8 L466.5,469.5" fill="none" stroke="#fff" stroke-width="3.5" stroke-linejoin="round" stroke-linecap="butt"/>
<path d="M410.5,501.8 L466.5,469.5" fill="none" stroke="#777" stroke-width="0.9" stroke-dasharray="0.8,0.6" stroke-linejoin="round" transform="translate(0.3,0.9)"/>
<polygon points="437.5,484.7 440.9,490.6 440.9,490.6 437.5,484.7" fill="none"/>
<polygon points="439.7,483.4 443.1,489.3 443.1,489.3 439.7,483.4" fill="none"/>
<polygon points="437.5,484.7 439.7,483.4 443.1,489.3 440.9,490.6" fill="#fff"/>
<line x1="438" y1="484.4" x2="440.4" y2="490.9" stroke="#2a2a2a" stroke-width="0.6" />
<line x1="440.2" y1="483.1" x2="442.6" y2="489.6" stroke="#2a2a2a" stroke-width="0.6" />
<path d="M590,407.5 L638,379.5" fill="none" stroke="#2a2a2a" stroke-width="4.9" stroke-linejoin="round" stroke-linecap="butt"/>
<path d="M590,407.5 L638,379.5" fill="none" stroke="#fff" stroke-width="3.5" stroke-linejoin="round" stroke-linecap="butt"/>
<path d="M590,407.5 L638,379.5" fill="none" stroke="#777" stroke-width="0.9" stroke-dasharray="0.8,0.6" stroke-linejoin="round" transform="translate(0.3,0.9)"/>
<polygon points="603.7,394.9 607.1,400.8 607.1,400.8 603.7,394.9" fill="none"/>
<polygon points="605.9,393.6 609.3,399.5 609.3,399.5 605.9,393.6" fill="none"/>
<polygon points="603.7,394.9 605.9,393.6 609.3,399.5 607.1,400.8" fill="#fff"/>
<line x1="604.2" y1="394.6" x2="606.6" y2="401.1" stroke="#2a2a2a" stroke-width="0.6" />
<line x1="606.4" y1="393.3" x2="608.8" y2="399.8" stroke="#2a2a2a" stroke-width="0.6" />
<g transform="translate(406.5,504.9) scale(1.0)">
<polygon points="-42.7,10 -35.7,5.3 -28.7,2.4 -25.7,1.8 -7.6,-1.7 -2.5,5 -7.5,12 -9.5,18.5 -12,22 -19.3,27.1 -22,28 -26,26.5 -41,17 -43.3,13.5" fill="#fff" stroke="#2a2a2a" stroke-width="0.75" stroke-linejoin="round" />
<polygon points="-25.7,1.8 -7.6,-1.7 -4.5,2.5 -10,8.5 -13.5,12 -18,8" fill="#5a5a5a" stroke="#2a2a2a" stroke-width="0.5" stroke-linejoin="round" />
<line x1="-23" y1="1.6" x2="-17" y2="8.5" stroke="#bbb" stroke-width="0.5" />
<line x1="-19.8" y1="1" x2="-14.6" y2="7.5" stroke="#bbb" stroke-width="0.5" />
<line x1="-16.6" y1="0.4" x2="-12.2" y2="6.5" stroke="#bbb" stroke-width="0.5" />
<line x1="-13.4" y1="-0.2" x2="-9.8" y2="5.5" stroke="#bbb" stroke-width="0.5" />
<line x1="-10.2" y1="-0.8" x2="-7.4" y2="4.5" stroke="#bbb" stroke-width="0.5" />
<polyline points="-36.5,5.6 -18.5,13.8 -13.5,12" fill="none" stroke="#2a2a2a" stroke-width="0.7" stroke-linejoin="round" />
<line x1="-18.5" y1="13.8" x2="-18.5" y2="25.5" stroke="#2a2a2a" stroke-width="0.7" />
<polyline points="-13.5,12 -10,8.5 -4.5,2.5" fill="none" stroke="#2a2a2a" stroke-width="0.7" stroke-linejoin="round" />
<ellipse cx="-1.6" cy="0.2" rx="4.2" ry="7.8" transform="rotate(-26 -1.6 0.2)" fill="#fff" stroke="#2a2a2a" stroke-width="0.9"/>
<ellipse cx="0.6" cy="-0.9" rx="4" ry="7.5" transform="rotate(-26 0.6 -0.9)" fill="#fff" stroke="#2a2a2a" stroke-width="0.9"/>
<ellipse cx="0.9" cy="-1" rx="2" ry="4.1" transform="rotate(-26 0.9 -1)" fill="#fff" stroke="#2a2a2a" stroke-width="0.7"/>
<line x1="-50.3" y1="21" x2="-37.5" y2="13.9" stroke="#2a2a2a" stroke-width="4.8" stroke-linecap="round"/>
<line x1="-50.3" y1="21" x2="-37.5" y2="13.9" stroke="#fff" stroke-width="3.0" stroke-linecap="round"/>
<line x1="-44.2" y1="15.2" x2="-42.4" y2="19" stroke="#2a2a2a" stroke-width="0.7" />
<ellipse cx="-40.1" cy="15.3" rx="1.3" ry="2.5" transform="rotate(28 -40.1 15.3)" fill="#fff" stroke="#2a2a2a" stroke-width="0.7"/>
<line x1="-36.5" y1="28.8" x2="-23.8" y2="21.7" stroke="#2a2a2a" stroke-width="4.8" stroke-linecap="round"/>
<line x1="-36.5" y1="28.8" x2="-23.8" y2="21.7" stroke="#fff" stroke-width="3.0" stroke-linecap="round"/>
<line x1="-30.4" y1="23" x2="-28.6" y2="26.8" stroke="#2a2a2a" stroke-width="0.7" />
<ellipse cx="-26.3" cy="23.1" rx="1.3" ry="2.5" transform="rotate(28 -26.3 23.1)" fill="#fff" stroke="#2a2a2a" stroke-width="0.7"/>
</g>
<polygon points="470,479 478,474.5 484,478 484,484 476,488.5 470,485" fill="#f0f0f0" stroke="#2a2a2a" stroke-width="0.6" stroke-linejoin="round" />
<ellipse cx="476.5" cy="482.5" rx="4" ry="2.6" transform="rotate(-25 476.5 482.5)" fill="#fff" stroke="#2a2a2a" stroke-width="0.8"/>
<ellipse cx="477.4" cy="482.1" rx="2.5" ry="1.6" transform="rotate(-25 477.4 482.1)" fill="#222" stroke="#2a2a2a" stroke-width="0.3"/>
<ellipse cx="476.3" cy="482.8" rx="1.7" ry="1" transform="rotate(-25 476.3 482.8)" fill="#f4f4f4" stroke="#2a2a2a" stroke-width="0"/>
<polygon points="485.2,471.5 593.5,407.4 593.5,422.5 485.2,485.5" fill="#e5e5e5" stroke="#2a2a2a" stroke-width="0.75" stroke-linejoin="round" />
<polygon points="451.3,452 485.2,471.5 485.2,485.5 451.3,465.5" fill="#ececec" stroke="#2a2a2a" stroke-width="0.75" stroke-linejoin="round" />
<polygon points="451.3,452 458,443.8 559.6,387.7 593.5,407.4 485.2,471.5" fill="#e5e5e5" stroke="#2a2a2a" stroke-width="0.75" stroke-linejoin="round" />
<polygon points="471.8,435.9 541.3,395 572.8,414 505.3,456.4" fill="#e4e4e4" stroke="#2a2a2a" stroke-width="0.7" stroke-linejoin="round" />
<polyline points="505.3,456.4 502.8,468.6 486,477.8" fill="none" stroke="#2a2a2a" stroke-width="0.7" stroke-linejoin="round" />
<polyline points="572.8,414 574,421 580,424.5 593.5,417" fill="none" stroke="#2a2a2a" stroke-width="0.7" stroke-linejoin="round" />
<line x1="463" y1="441.7" x2="496.5" y2="461" stroke="#2a2a2a" stroke-width="0.6" />
<line x1="551" y1="390" x2="584" y2="409.5" stroke="#2a2a2a" stroke-width="0.6" />
<line x1="451.3" y1="456" x2="485.2" y2="475.5" stroke="#2a2a2a" stroke-width="0.6" />
<ellipse cx="460.5" cy="453.8" rx="5.6" ry="3.6" transform="rotate(-25 460.5 453.8)" fill="#fff" stroke="#2a2a2a" stroke-width="0.8"/>
<ellipse cx="461.7" cy="453.3" rx="3.5" ry="2.2" transform="rotate(-25 461.7 453.3)" fill="#222" stroke="#2a2a2a" stroke-width="0.3"/>
<ellipse cx="460.2" cy="454.2" rx="2.3" ry="1.4" transform="rotate(-25 460.2 454.2)" fill="#f4f4f4" stroke="#2a2a2a" stroke-width="0"/>
<ellipse cx="481.2" cy="465.8" rx="5.6" ry="3.6" transform="rotate(-25 481.2 465.8)" fill="#fff" stroke="#2a2a2a" stroke-width="0.8"/>
<ellipse cx="482.4" cy="465.3" rx="3.5" ry="2.2" transform="rotate(-25 482.4 465.3)" fill="#222" stroke="#2a2a2a" stroke-width="0.3"/>
<ellipse cx="480.9" cy="466.2" rx="2.3" ry="1.4" transform="rotate(-25 480.9 466.2)" fill="#f4f4f4" stroke="#2a2a2a" stroke-width="0"/>
<ellipse cx="561.5" cy="393.5" rx="5.3" ry="3.4" transform="rotate(-25 561.5 393.5)" fill="#fff" stroke="#2a2a2a" stroke-width="0.8"/>
<ellipse cx="562.7" cy="393" rx="3.3" ry="2.1" transform="rotate(-25 562.7 393)" fill="#222" stroke="#2a2a2a" stroke-width="0.3"/>
<ellipse cx="561.2" cy="393.9" rx="2.2" ry="1.3" transform="rotate(-25 561.2 393.9)" fill="#f4f4f4" stroke="#2a2a2a" stroke-width="0"/>
<ellipse cx="582.5" cy="405.5" rx="5.3" ry="3.4" transform="rotate(-25 582.5 405.5)" fill="#fff" stroke="#2a2a2a" stroke-width="0.8"/>
<ellipse cx="583.7" cy="405" rx="3.3" ry="2.1" transform="rotate(-25 583.7 405)" fill="#222" stroke="#2a2a2a" stroke-width="0.3"/>
<ellipse cx="582.2" cy="405.9" rx="2.2" ry="1.3" transform="rotate(-25 582.2 405.9)" fill="#f4f4f4" stroke="#2a2a2a" stroke-width="0"/>
<text x="502.3" y="441.6" font-family="Liberation Sans" font-size="12.9" font-weight="normal" font-style="normal" fill="#111" text-anchor="start" textLength="52.5" lengthAdjust="spacingAndGlyphs" transform="translate(502.3,441.6) rotate(-30.2) skewX(-16) translate(-502.3,-441.6)" stroke="#111" stroke-width="0.35">16W dim</text>
<line x1="487.5" y1="484" x2="501" y2="492" stroke="#333" stroke-width="0.5" />
<line x1="593.5" y1="425" x2="607.5" y2="433" stroke="#333" stroke-width="0.5" />
<line x1="500.6" y1="493.4" x2="606.5" y2="433.2" stroke="#333" stroke-width="0.55" />
<polygon points="606.5,433.2 603.9,435.9 602.8,434" fill="#333"/>
<polygon points="500.6,493.4 503.2,490.7 504.3,492.6" fill="#333"/>
<text x="551.3" y="474.2" font-family="Liberation Sans" font-size="9.4" font-weight="normal" font-style="italic" fill="#555" text-anchor="start" textLength="18" lengthAdjust="spacingAndGlyphs" transform="rotate(-17.5 551.3 474.2)" >160</text>
<line x1="593.5" y1="407" x2="608" y2="415" stroke="#333" stroke-width="0.5" />
<line x1="606.8" y1="414.3" x2="606.8" y2="433" stroke="#333" stroke-width="0.55" />
<polygon points="606.8,433 605.7,429.4 607.9,429.4" fill="#333"/>
<polygon points="606.8,414.3 607.9,417.9 605.7,417.9" fill="#333"/>
<text x="611.5" y="428.3" font-family="Liberation Sans" font-size="10.6" font-style="italic" fill="#555" textLength="8.6" lengthAdjust="spacingAndGlyphs" transform="translate(611.5,428.3) skewY(-30) translate(-611.5,-428.3)">22</text>
<line x1="558" y1="387" x2="563.3" y2="380.2" stroke="#333" stroke-width="0.5" />
<line x1="593.5" y1="407" x2="598.6" y2="400.5" stroke="#333" stroke-width="0.5" />
<line x1="561" y1="381.3" x2="596.8" y2="401.2" stroke="#333" stroke-width="0.55" />
<polygon points="596.8,401.2 593.1,400.4 594.2,398.5" fill="#333"/>
<polygon points="561,381.3 564.7,382.1 563.6,384" fill="#333"/>
<text x="585.7" y="379.2" font-family="Liberation Sans" font-size="9.2" font-weight="normal" font-style="italic" fill="#555" text-anchor="start" textLength="10.5" lengthAdjust="spacingAndGlyphs" transform="rotate(30 585.7 379.2)" >45</text>
<line x1="654.5" y1="353.6" x2="665" y2="347.8" stroke="#2a2a2a" stroke-width="3.6" stroke-linecap="round"/>
<line x1="654.5" y1="353.6" x2="665" y2="347.8" stroke="#fff" stroke-width="2.0" stroke-linecap="round"/>
<line x1="655.5" y1="353.1" x2="664.5" y2="348" stroke="#555" stroke-width="0.5" />
<line x1="659.5" y1="356.2" x2="670" y2="350.4" stroke="#2a2a2a" stroke-width="3.6" stroke-linecap="round"/>
<line x1="659.5" y1="356.2" x2="670" y2="350.4" stroke="#fff" stroke-width="2.0" stroke-linecap="round"/>
<line x1="660.5" y1="355.7" x2="669.5" y2="350.6" stroke="#555" stroke-width="0.5" />
<line x1="664.5" y1="358.8" x2="675" y2="353" stroke="#2a2a2a" stroke-width="3.6" stroke-linecap="round"/>
<line x1="664.5" y1="358.8" x2="675" y2="353" stroke="#fff" stroke-width="2.0" stroke-linecap="round"/>
<line x1="665.5" y1="358.3" x2="674.5" y2="353.2" stroke="#555" stroke-width="0.5" />
<line x1="669.5" y1="361.4" x2="680" y2="355.6" stroke="#2a2a2a" stroke-width="3.6" stroke-linecap="round"/>
<line x1="669.5" y1="361.4" x2="680" y2="355.6" stroke="#fff" stroke-width="2.0" stroke-linecap="round"/>
<line x1="670.5" y1="360.9" x2="679.5" y2="355.8" stroke="#555" stroke-width="0.5" />
<line x1="674.5" y1="364" x2="685" y2="358.2" stroke="#2a2a2a" stroke-width="3.6" stroke-linecap="round"/>
<line x1="674.5" y1="364" x2="685" y2="358.2" stroke="#fff" stroke-width="2.0" stroke-linecap="round"/>
<line x1="675.5" y1="363.5" x2="684.5" y2="358.4" stroke="#555" stroke-width="0.5" />
<polygon points="622.8,358.7 649.8,374 649.8,388 622.8,373" fill="#fff" stroke="#2a2a2a" stroke-width="0.7" stroke-linejoin="round" />
<polygon points="649.8,374 661.5,374 661.5,388 649.8,388" fill="#fff" stroke="#2a2a2a" stroke-width="0.7" stroke-linejoin="round" />
<polygon points="661.5,374 681,362.5 681,376 661.5,388" fill="#fff" stroke="#2a2a2a" stroke-width="0.7" stroke-linejoin="round" />
<polygon points="622.8,358.7 641.6,347.6 645.5,347.6 681,368.5 665,378 661.5,380 649.8,380 622.8,365.2" fill="#fff" stroke="#2a2a2a" stroke-width="0.75" stroke-linejoin="round" />
<line x1="622.8" y1="365.2" x2="649.8" y2="380.5" stroke="#2a2a2a" stroke-width="0.6" />
<line x1="649.8" y1="380.5" x2="649.8" y2="388" stroke="#2a2a2a" stroke-width="0.6" />
<line x1="649.8" y1="383.5" x2="661.5" y2="383.5" stroke="#2a2a2a" stroke-width="0.5" />
<line x1="661.5" y1="380" x2="681" y2="368.5" stroke="#2a2a2a" stroke-width="0.6" />
<polygon points="628.7,362.5 635.7,358.5 661.5,373 654,377.5" fill="#a8a8a8" stroke="#2a2a2a" stroke-width="0.6" stroke-linejoin="round" />
<line x1="628.7" y1="362.5" x2="654" y2="377.5" stroke="#444" stroke-width="0.4" />
<line x1="630.1" y1="361.7" x2="655.5" y2="376.6" stroke="#444" stroke-width="0.4" />
<line x1="631.5" y1="360.9" x2="657" y2="375.7" stroke="#444" stroke-width="0.4" />
<line x1="632.9" y1="360.1" x2="658.5" y2="374.8" stroke="#444" stroke-width="0.4" />
<line x1="634.3" y1="359.3" x2="660" y2="373.9" stroke="#444" stroke-width="0.4" />
<line x1="635.7" y1="358.5" x2="661.5" y2="373" stroke="#444" stroke-width="0.4" />
<polygon points="640.4,355.3 643.9,352.9 672,367.5 668.5,370" fill="#fff" stroke="#2a2a2a" stroke-width="0.6" stroke-linejoin="round" />
<line x1="647.4" y1="342.3" x2="661.5" y2="334.7" stroke="#333" stroke-width="0.5" />
<line x1="687.3" y1="364.5" x2="701" y2="357" stroke="#333" stroke-width="0.5" />
<line x1="660.3" y1="335.8" x2="699" y2="357.3" stroke="#333" stroke-width="0.55" />
<polygon points="699,357.3 695.3,356.5 696.4,354.6" fill="#333"/>
<polygon points="660.3,335.8 664,336.6 662.9,338.5" fill="#333"/>
<text x="680.2" y="342.8" font-family="Liberation Sans" font-size="9.6" font-weight="normal" font-style="italic" fill="#555" text-anchor="start" textLength="12" lengthAdjust="spacingAndGlyphs" transform="rotate(30 680.2 342.8)" >55</text>
<path d="M545.8,585.7 L600,554.5" fill="none" stroke="#2a2a2a" stroke-width="4.9" stroke-linejoin="round" stroke-linecap="butt"/>
<path d="M545.8,585.7 L600,554.5" fill="none" stroke="#fff" stroke-width="3.5" stroke-linejoin="round" stroke-linecap="butt"/>
<path d="M545.8,585.7 L600,554.5" fill="none" stroke="#777" stroke-width="0.9" stroke-dasharray="0.8,0.6" stroke-linejoin="round" transform="translate(0.3,0.9)"/>
<polygon points="572.5,566.1 575.9,572 575.9,572 572.5,566.1" fill="none"/>
<polygon points="574.7,564.8 578.1,570.7 578.1,570.7 574.7,564.8" fill="none"/>
<polygon points="572.5,566.1 574.7,564.8 578.1,570.7 575.9,572" fill="#fff"/>
<line x1="573" y1="565.8" x2="575.4" y2="572.3" stroke="#2a2a2a" stroke-width="0.6" />
<line x1="575.2" y1="564.5" x2="577.6" y2="571" stroke="#2a2a2a" stroke-width="0.6" />
<path d="M728,482.5 L762,463" fill="none" stroke="#2a2a2a" stroke-width="4.9" stroke-linejoin="round" stroke-linecap="butt"/>
<path d="M728,482.5 L762,463" fill="none" stroke="#fff" stroke-width="3.5" stroke-linejoin="round" stroke-linecap="butt"/>
<path d="M728,482.5 L762,463" fill="none" stroke="#777" stroke-width="0.9" stroke-dasharray="0.8,0.6" stroke-linejoin="round" transform="translate(0.3,0.9)"/>
<polygon points="743.7,469.6 747.1,475.5 747.1,475.5 743.7,469.6" fill="none"/>
<polygon points="745.9,468.3 749.3,474.2 749.3,474.2 745.9,468.3" fill="none"/>
<polygon points="743.7,469.6 745.9,468.3 749.3,474.2 747.1,475.5" fill="#fff"/>
<line x1="744.2" y1="469.3" x2="746.6" y2="475.8" stroke="#2a2a2a" stroke-width="0.6" />
<line x1="746.4" y1="468" x2="748.8" y2="474.5" stroke="#2a2a2a" stroke-width="0.6" />
<path d="M815,424 L858,397.5" fill="none" stroke="#2a2a2a" stroke-width="4.9" stroke-linejoin="round" stroke-linecap="butt"/>
<path d="M815,424 L858,397.5" fill="none" stroke="#fff" stroke-width="3.5" stroke-linejoin="round" stroke-linecap="butt"/>
<path d="M815,424 L858,397.5" fill="none" stroke="#777" stroke-width="0.9" stroke-dasharray="0.8,0.6" stroke-linejoin="round" transform="translate(0.3,0.9)"/>
<polygon points="831.2,409.9 834.6,415.8 834.6,415.8 831.2,409.9" fill="none"/>
<polygon points="833.4,408.6 836.8,414.5 836.8,414.5 833.4,408.6" fill="none"/>
<polygon points="831.2,409.9 833.4,408.6 836.8,414.5 834.6,415.8" fill="#fff"/>
<line x1="831.7" y1="409.6" x2="834.1" y2="416.1" stroke="#2a2a2a" stroke-width="0.6" />
<line x1="833.9" y1="408.3" x2="836.3" y2="414.8" stroke="#2a2a2a" stroke-width="0.6" />
<g transform="translate(541.8,588) scale(1.0)">
<polygon points="-42.7,10 -35.7,5.3 -28.7,2.4 -25.7,1.8 -7.6,-1.7 -2.5,5 -7.5,12 -9.5,18.5 -12,22 -19.3,27.1 -22,28 -26,26.5 -41,17 -43.3,13.5" fill="#fff" stroke="#2a2a2a" stroke-width="0.75" stroke-linejoin="round" />
<polygon points="-25.7,1.8 -7.6,-1.7 -4.5,2.5 -10,8.5 -13.5,12 -18,8" fill="#5a5a5a" stroke="#2a2a2a" stroke-width="0.5" stroke-linejoin="round" />
<line x1="-23" y1="1.6" x2="-17" y2="8.5" stroke="#bbb" stroke-width="0.5" />
<line x1="-19.8" y1="1" x2="-14.6" y2="7.5" stroke="#bbb" stroke-width="0.5" />
<line x1="-16.6" y1="0.4" x2="-12.2" y2="6.5" stroke="#bbb" stroke-width="0.5" />
<line x1="-13.4" y1="-0.2" x2="-9.8" y2="5.5" stroke="#bbb" stroke-width="0.5" />
<line x1="-10.2" y1="-0.8" x2="-7.4" y2="4.5" stroke="#bbb" stroke-width="0.5" />
<polyline points="-36.5,5.6 -18.5,13.8 -13.5,12" fill="none" stroke="#2a2a2a" stroke-width="0.7" stroke-linejoin="round" />
<line x1="-18.5" y1="13.8" x2="-18.5" y2="25.5" stroke="#2a2a2a" stroke-width="0.7" />
<polyline points="-13.5,12 -10,8.5 -4.5,2.5" fill="none" stroke="#2a2a2a" stroke-width="0.7" stroke-linejoin="round" />
<ellipse cx="-1.6" cy="0.2" rx="4.2" ry="7.8" transform="rotate(-26 -1.6 0.2)" fill="#fff" stroke="#2a2a2a" stroke-width="0.9"/>
<ellipse cx="0.6" cy="-0.9" rx="4" ry="7.5" transform="rotate(-26 0.6 -0.9)" fill="#fff" stroke="#2a2a2a" stroke-width="0.9"/>
<ellipse cx="0.9" cy="-1" rx="2" ry="4.1" transform="rotate(-26 0.9 -1)" fill="#fff" stroke="#2a2a2a" stroke-width="0.7"/>
<line x1="-50.3" y1="21" x2="-37.5" y2="13.9" stroke="#2a2a2a" stroke-width="4.8" stroke-linecap="round"/>
<line x1="-50.3" y1="21" x2="-37.5" y2="13.9" stroke="#fff" stroke-width="3.0" stroke-linecap="round"/>
<line x1="-44.2" y1="15.2" x2="-42.4" y2="19" stroke="#2a2a2a" stroke-width="0.7" />
<ellipse cx="-40.1" cy="15.3" rx="1.3" ry="2.5" transform="rotate(28 -40.1 15.3)" fill="#fff" stroke="#2a2a2a" stroke-width="0.7"/>
<line x1="-36.5" y1="28.8" x2="-23.8" y2="21.7" stroke="#2a2a2a" stroke-width="4.8" stroke-linecap="round"/>
<line x1="-36.5" y1="28.8" x2="-23.8" y2="21.7" stroke="#fff" stroke-width="3.0" stroke-linecap="round"/>
<line x1="-30.4" y1="23" x2="-28.6" y2="26.8" stroke="#2a2a2a" stroke-width="0.7" />
<ellipse cx="-26.3" cy="23.1" rx="1.3" ry="2.5" transform="rotate(28 -26.3 23.1)" fill="#fff" stroke="#2a2a2a" stroke-width="0.7"/>
</g>
<polygon points="617.8,555.8 737.3,484.6 737.3,495.6 617.8,566.8" fill="#e5e5e5" stroke="#2a2a2a" stroke-width="0.75" stroke-linejoin="round" />
<polygon points="592.3,541.7 617.8,555.8 617.8,566.8 592.3,552.7" fill="#eaeaea" stroke="#2a2a2a" stroke-width="0.75" stroke-linejoin="round" />
<polygon points="592.3,541.7 712.7,470.5 737.3,484.6 617.8,555.8" fill="#e5e5e5" stroke="#2a2a2a" stroke-width="0.75" stroke-linejoin="round" />
<line x1="617.8" y1="559.5" x2="737.3" y2="488.5" stroke="#2a2a2a" stroke-width="0.6" />
<polygon points="599,538 611,531 627,540.5 615,547.5" fill="#f3f3f3" stroke="#2a2a2a" stroke-width="0.6" stroke-linejoin="round" />
<polygon points="703,476 713.5,470 730,479.5 719,486" fill="#f3f3f3" stroke="#2a2a2a" stroke-width="0.6" stroke-linejoin="round" />
<ellipse cx="601" cy="541.5" rx="3.7" ry="2.4" transform="rotate(-25 601 541.5)" fill="#fff" stroke="#2a2a2a" stroke-width="0.8"/>
<ellipse cx="601.8" cy="541.1" rx="2.3" ry="1.5" transform="rotate(-25 601.8 541.1)" fill="#222" stroke="#2a2a2a" stroke-width="0.3"/>
<ellipse cx="600.8" cy="541.8" rx="1.6" ry="0.9" transform="rotate(-25 600.8 541.8)" fill="#f4f4f4" stroke="#2a2a2a" stroke-width="0"/>
<ellipse cx="611.5" cy="547.5" rx="3.7" ry="2.4" transform="rotate(-25 611.5 547.5)" fill="#fff" stroke="#2a2a2a" stroke-width="0.8"/>
<ellipse cx="612.3" cy="547.1" rx="2.3" ry="1.5" transform="rotate(-25 612.3 547.1)" fill="#222" stroke="#2a2a2a" stroke-width="0.3"/>
<ellipse cx="611.3" cy="547.8" rx="1.6" ry="0.9" transform="rotate(-25 611.3 547.8)" fill="#f4f4f4" stroke="#2a2a2a" stroke-width="0"/>
<ellipse cx="719.5" cy="477.5" rx="3.7" ry="2.4" transform="rotate(-25 719.5 477.5)" fill="#fff" stroke="#2a2a2a" stroke-width="0.8"/>
<ellipse cx="720.3" cy="477.1" rx="2.3" ry="1.5" transform="rotate(-25 720.3 477.1)" fill="#222" stroke="#2a2a2a" stroke-width="0.3"/>
<ellipse cx="719.3" cy="477.8" rx="1.6" ry="0.9" transform="rotate(-25 719.3 477.8)" fill="#f4f4f4" stroke="#2a2a2a" stroke-width="0"/>
<ellipse cx="729.5" cy="483.5" rx="3.7" ry="2.4" transform="rotate(-25 729.5 483.5)" fill="#fff" stroke="#2a2a2a" stroke-width="0.8"/>
<ellipse cx="730.3" cy="483.1" rx="2.3" ry="1.5" transform="rotate(-25 730.3 483.1)" fill="#222" stroke="#2a2a2a" stroke-width="0.3"/>
<ellipse cx="729.3" cy="483.8" rx="1.6" ry="0.9" transform="rotate(-25 729.3 483.8)" fill="#f4f4f4" stroke="#2a2a2a" stroke-width="0"/>
<polyline points="724,489 725.5,496 728,500" fill="none" stroke="#2a2a2a" stroke-width="0.6" stroke-linejoin="round" />
<text x="645.8" y="527.7" font-family="Liberation Sans" font-size="12.9" font-weight="normal" font-style="normal" fill="#111" text-anchor="start" textLength="57.6" lengthAdjust="spacingAndGlyphs" transform="translate(645.8,527.7) rotate(-29) skewX(-16) translate(-645.8,-527.7)" stroke="#111" stroke-width="0.35">15W Funk</text>
<line x1="617.8" y1="566.8" x2="633" y2="575.5" stroke="#333" stroke-width="0.5" />
<line x1="737.3" y1="495.6" x2="753" y2="504.5" stroke="#333" stroke-width="0.5" />
<line x1="632.7" y1="576" x2="752.3" y2="506.2" stroke="#333" stroke-width="0.55" />
<polygon points="752.3,506.2 749.7,509 748.6,507.1" fill="#333"/>
<polygon points="632.7,576 635.3,573.2 636.4,575.1" fill="#333"/>
<text x="697.5" y="548.8" font-family="Liberation Sans" font-size="9.4" font-weight="normal" font-style="italic" fill="#555" text-anchor="start" textLength="17.5" lengthAdjust="spacingAndGlyphs" transform="rotate(-16.1 697.5 548.8)" >166</text>
<line x1="737.3" y1="484.6" x2="753" y2="493.5" stroke="#333" stroke-width="0.5" />
<line x1="752.3" y1="484.6" x2="752.3" y2="506" stroke="#333" stroke-width="0.55" />
<polygon points="752.3,506 751.2,502.4 753.4,502.4" fill="#333"/>
<polygon points="752.3,484.6 753.4,488.2 751.2,488.2" fill="#333"/>
<text x="757" y="502.4" font-family="Liberation Sans" font-size="10.4" font-style="italic" fill="#555" textLength="7.8" lengthAdjust="spacingAndGlyphs" transform="translate(757,502.4) skewY(-30) translate(-757,-502.4)">14</text>
<line x1="592.3" y1="552.7" x2="580.5" y2="559.5" stroke="#333" stroke-width="0.5" />
<line x1="617.8" y1="566.8" x2="606" y2="573.6" stroke="#333" stroke-width="0.5" />
<line x1="582" y1="559.2" x2="606.2" y2="573.2" stroke="#333" stroke-width="0.55" />
<polygon points="606.2,573.2 602.5,572.3 603.6,570.4" fill="#333"/>
<polygon points="582,559.2 585.7,560.1 584.6,562" fill="#333"/>
<text x="588.8" y="574.8" font-family="Liberation Sans" font-size="9.2" font-weight="normal" font-style="italic" fill="#555" text-anchor="start" textLength="10.5" lengthAdjust="spacingAndGlyphs" transform="rotate(30 588.8 574.8)" >40</text>
<polygon points="746.7,452.2 749.5,450.2 770.1,461.2 821.5,436.6 823.7,439.6 770.1,469.6 746.7,456.6" fill="#f4f4f4" stroke="#2a2a2a" stroke-width="0.8" stroke-linejoin="round" />
<polygon points="751.3,449 770.1,457 815.8,431.5 815.8,443 770.1,468.6 751.3,460" fill="#f0f0f0" stroke="#2a2a2a" stroke-width="0.8" stroke-linejoin="round" />
<line x1="770.1" y1="457" x2="770.1" y2="468.6" stroke="#2a2a2a" stroke-width="0.8" />
<line x1="770.1" y1="462.2" x2="817.5" y2="436.6" stroke="#2a2a2a" stroke-width="0.6" />
<line x1="770.1" y1="465.2" x2="819" y2="439.6" stroke="#2a2a2a" stroke-width="0.6" />
<path d="M752.70,442.07 Q753.00,440.60 754.30,439.85 L793.13,417.55 Q795.30,416.30 797.51,417.47 L813.59,426.03 Q815.80,427.20 815.80,429.13 L815.80,430.50 Q815.80,431.50 814.93,431.99 L772.72,455.54 Q770.10,457.00 767.34,455.83 L752.68,449.59 Q751.30,449.00 751.60,447.53 Z" fill="#e4e4e4" stroke="#2a2a2a" stroke-width="0.85" stroke-linejoin="round" />
<polyline points="751.8,450.6 770.1,458.6 815.6,433.2" fill="none" stroke="#333" stroke-width="1.3" stroke-dasharray="0.6,0.5"/>
<polyline points="753,440.6 755,443 753,445.5 751.3,449" fill="none" stroke="#2a2a2a" stroke-width="0.7" stroke-linejoin="round" />
<ellipse cx="797.8" cy="418.3" rx="3.9" ry="2.5" transform="rotate(-25 797.8 418.3)" fill="#fff" stroke="#2a2a2a" stroke-width="0.8"/>
<ellipse cx="798.7" cy="417.9" rx="2.4" ry="1.6" transform="rotate(-25 798.7 417.9)" fill="#222" stroke="#2a2a2a" stroke-width="0.3"/>
<ellipse cx="797.6" cy="418.6" rx="1.6" ry="0.9" transform="rotate(-25 797.6 418.6)" fill="#f4f4f4" stroke="#2a2a2a" stroke-width="0"/>
<ellipse cx="809.5" cy="424.5" rx="3.9" ry="2.5" transform="rotate(-25 809.5 424.5)" fill="#fff" stroke="#2a2a2a" stroke-width="0.8"/>
<ellipse cx="810.4" cy="424.1" rx="2.4" ry="1.6" transform="rotate(-25 810.4 424.1)" fill="#222" stroke="#2a2a2a" stroke-width="0.3"/>
<ellipse cx="809.3" cy="424.8" rx="1.6" ry="0.9" transform="rotate(-25 809.3 424.8)" fill="#f4f4f4" stroke="#2a2a2a" stroke-width="0"/>
<ellipse cx="784.4" cy="436.8" rx="1.1" ry="0.8" transform="rotate(0 784.4 436.8)" fill="#fff" stroke="#2a2a2a" stroke-width="0.6"/>
<g transform="translate(854.3,384.1) scale(1.0)">
<line x1="21.5" y1="-7.8" x2="33.1" y2="-12.4" stroke="#2a2a2a" stroke-width="3.9" stroke-linecap="round"/>
<line x1="21.5" y1="-7.8" x2="33.1" y2="-12.4" stroke="#fff" stroke-width="2.1" stroke-linecap="round"/>
<line x1="27" y1="-10.8" x2="27.9" y2="-8.4" stroke="#2a2a2a" stroke-width="0.6" />
<line x1="26" y1="-5" x2="39.5" y2="-10.4" stroke="#2a2a2a" stroke-width="3.9" stroke-linecap="round"/>
<line x1="26" y1="-5" x2="39.5" y2="-10.4" stroke="#fff" stroke-width="2.1" stroke-linecap="round"/>
<line x1="31.5" y1="-8" x2="32.4" y2="-5.6" stroke="#2a2a2a" stroke-width="0.6" />
<line x1="30.5" y1="-2.2" x2="43.5" y2="-7.4" stroke="#2a2a2a" stroke-width="3.9" stroke-linecap="round"/>
<line x1="30.5" y1="-2.2" x2="43.5" y2="-7.4" stroke="#fff" stroke-width="2.1" stroke-linecap="round"/>
<line x1="36" y1="-5.2" x2="36.9" y2="-2.8" stroke="#2a2a2a" stroke-width="0.6" />
<polygon points="0.3,5.6 9.1,10.6 9.1,18.8 0.3,13.8" fill="#fff" stroke="#2a2a2a" stroke-width="0.8" stroke-linejoin="round" />
<polygon points="9.1,10.6 18.5,10 18.5,18.2 9.1,18.8" fill="#fff" stroke="#2a2a2a" stroke-width="0.8" stroke-linejoin="round" />
<polygon points="18.5,10 35.2,0.2 35.2,8.4 18.5,18.2" fill="#fff" stroke="#2a2a2a" stroke-width="0.8" stroke-linejoin="round" />
<polygon points="0,0 16.8,-10.4 19.1,-10.5 34.9,-1.1 35.2,0.2 18.5,10 9.1,10.6 0.3,5.6" fill="#fff" stroke="#2a2a2a" stroke-width="0.8" stroke-linejoin="round" />
<line x1="9.1" y1="14.1" x2="18.5" y2="13.5" stroke="#666" stroke-width="0.8" />
<line x1="9.1" y1="15.2" x2="18.5" y2="14.6" stroke="#999" stroke-width="0.6" />
<line x1="18.5" y1="14.5" x2="35.2" y2="4.7" stroke="#2a2a2a" stroke-width="0.6" />
<polygon points="3.8,3.6 9.1,0.9 17.3,4.7 12,8" fill="#7a7a7a" stroke="#2a2a2a" stroke-width="0.7" stroke-linejoin="round" />
<line x1="5.5" y1="2.8" x2="10.8" y2="0.5" stroke="#ddd" stroke-width="0.4" />
<line x1="8.1" y1="4" x2="13.4" y2="1.7" stroke="#ddd" stroke-width="0.4" />
<line x1="10.7" y1="5.2" x2="16" y2="2.9" stroke="#ddd" stroke-width="0.4" />
<polygon points="16.1,-5.2 20.2,-7.3 29.6,-1.4 25.5,0.9" fill="#fff" stroke="#2a2a2a" stroke-width="0.7" stroke-linejoin="round" />
</g>
<line x1="770.1" y1="469" x2="782.5" y2="475.5" stroke="#333" stroke-width="0.5" />
<line x1="822" y1="440" x2="831" y2="445.5" stroke="#333" stroke-width="0.5" />
<line x1="782" y1="474.8" x2="830" y2="447" stroke="#333" stroke-width="0.55" />
<polygon points="830,447 827.4,449.8 826.3,447.9" fill="#333"/>
<polygon points="782,474.8 784.6,472 785.7,473.9" fill="#333"/>
<text x="809.5" y="469.6" font-family="Liberation Sans" font-size="9.4" font-weight="normal" font-style="italic" fill="#555" text-anchor="start" textLength="16.6" lengthAdjust="spacingAndGlyphs" transform="rotate(-16.7 809.5 469.6)" >101</text>
<line x1="817.2" y1="425.5" x2="836.5" y2="436.5" stroke="#333" stroke-width="0.5" />
<line x1="821" y1="440" x2="836.5" y2="448.5" stroke="#333" stroke-width="0.5" />
<line x1="835.5" y1="435.5" x2="835.5" y2="447.5" stroke="#333" stroke-width="0.55" />
<polygon points="835.5,447.5 834.4,443.9 836.6,443.9" fill="#333"/>
<polygon points="835.5,435.5 836.6,439.1 834.4,439.1" fill="#333"/>
<text x="838.6" y="443" font-family="Liberation Sans" font-size="10.4" font-style="italic" fill="#555" textLength="7.6" lengthAdjust="spacingAndGlyphs" transform="translate(838.6,443) skewY(-30) translate(-838.6,-443)">17</text>
<line x1="796.8" y1="415.7" x2="804" y2="411" stroke="#333" stroke-width="0.5" />
<line x1="817.2" y1="425.5" x2="832" y2="417" stroke="#333" stroke-width="0.5" />
<line x1="808.2" y1="409.5" x2="832" y2="422.5" stroke="#333" stroke-width="0.55" />
<polygon points="832,422.5 828.3,421.7 829.4,419.8" fill="#333"/>
<polygon points="808.2,409.5 811.9,410.3 810.8,412.2" fill="#333"/>
<text x="796.3" y="402.8" font-family="Liberation Sans" font-size="9.2" font-weight="normal" font-style="italic" fill="#555" text-anchor="start" textLength="10.5" lengthAdjust="spacingAndGlyphs" transform="rotate(30 796.3 402.8)" >44</text>
<polygon points="891.5,517.6 983.4,569.8 1003.8,557.8 1003.8,564.1 983.4,576.1 891.5,523.9" fill="#f4f4f4" stroke="#2a2a2a" stroke-width="0" stroke-linejoin="round" />
<path d="M894.11,525.38 Q891.50,523.90 894.09,522.39 L908.21,514.21 Q910.80,512.70 913.43,514.15 L1001.17,562.65 Q1003.80,564.10 1001.21,565.62 L985.99,574.58 Q983.40,576.10 980.79,574.62 Z" fill="#f4f4f4" stroke="#2a2a2a" stroke-width="0.8" stroke-linejoin="round" />
<polygon points="891.5,517.6 983.4,569.8 1003.8,557.8 1003.8,562.2 983.4,574.2 891.5,522" fill="#f4f4f4" stroke="#2a2a2a" stroke-width="0" stroke-linejoin="round" />
<line x1="891.6" y1="517.6" x2="891.6" y2="523.9" stroke="#2a2a2a" stroke-width="0.8" />
<line x1="1003.6" y1="557.8" x2="1003.6" y2="564.1" stroke="#2a2a2a" stroke-width="0.8" />
<line x1="983.4" y1="571.3" x2="983.4" y2="576.1" stroke="#777" stroke-width="0.5" />
<path d="M894.11,522.23 Q891.50,520.75 894.09,519.24 L908.21,511.06 Q910.80,509.55 913.43,511.00 L1001.17,559.50 Q1003.80,560.95 1001.21,562.47 L985.99,571.43 Q983.40,572.95 980.79,571.47 Z" fill="none" stroke="#2a2a2a" stroke-width="0.6" clip-path="none"/>
<path d="M894.11,519.08 Q891.50,517.60 894.09,516.09 L908.21,507.91 Q910.80,506.40 913.43,507.85 L1001.17,556.35 Q1003.80,557.80 1001.21,559.32 L985.99,568.28 Q983.40,569.80 980.79,568.32 Z" fill="#e4e4e4" stroke="#2a2a2a" stroke-width="0.8" stroke-linejoin="round" />
<ellipse cx="935.5" cy="531.6" rx="2.4" ry="1.3" transform="rotate(-28 935.5 531.6)" fill="#fff" stroke="#2a2a2a" stroke-width="0.7"/>
<ellipse cx="935.5" cy="531.6" rx="1.3" ry="0.7" transform="rotate(-28 935.5 531.6)" fill="#222" stroke="#2a2a2a" stroke-width="0.4"/>
<ellipse cx="941.6" cy="543.2" rx="2.1" ry="1.2" transform="rotate(-28 941.6 543.2)" fill="#fff" stroke="#2a2a2a" stroke-width="0.85"/>
<ellipse cx="945.9" cy="540.8" rx="2.1" ry="1.2" transform="rotate(-28 945.9 540.8)" fill="#fff" stroke="#2a2a2a" stroke-width="0.85"/>
<ellipse cx="945.9" cy="540.8" rx="1.2" ry="0.7" transform="rotate(-28 945.9 540.8)" fill="#222" stroke="#2a2a2a" stroke-width="0.4"/>
<ellipse cx="950.2" cy="538.3" rx="2.1" ry="1.2" transform="rotate(-28 950.2 538.3)" fill="#fff" stroke="#2a2a2a" stroke-width="0.85"/>
<ellipse cx="950.2" cy="538.3" rx="1.2" ry="0.7" transform="rotate(-28 950.2 538.3)" fill="#222" stroke="#2a2a2a" stroke-width="0.4"/>
<ellipse cx="954.5" cy="535.9" rx="2.1" ry="1.2" transform="rotate(-28 954.5 535.9)" fill="#fff" stroke="#2a2a2a" stroke-width="0.85"/>
<ellipse cx="953.2" cy="549.8" rx="2.1" ry="1.2" transform="rotate(-28 953.2 549.8)" fill="#fff" stroke="#2a2a2a" stroke-width="0.85"/>
<ellipse cx="957.5" cy="547.3" rx="2.1" ry="1.2" transform="rotate(-28 957.5 547.3)" fill="#fff" stroke="#2a2a2a" stroke-width="0.85"/>
<ellipse cx="957.5" cy="547.3" rx="1.2" ry="0.7" transform="rotate(-28 957.5 547.3)" fill="#222" stroke="#2a2a2a" stroke-width="0.4"/>
<ellipse cx="961.8" cy="544.9" rx="2.1" ry="1.2" transform="rotate(-28 961.8 544.9)" fill="#fff" stroke="#2a2a2a" stroke-width="0.85"/>
<ellipse cx="961.8" cy="544.9" rx="1.2" ry="0.7" transform="rotate(-28 961.8 544.9)" fill="#222" stroke="#2a2a2a" stroke-width="0.4"/>
<ellipse cx="966.1" cy="542.4" rx="2.1" ry="1.2" transform="rotate(-28 966.1 542.4)" fill="#fff" stroke="#2a2a2a" stroke-width="0.85"/>
<ellipse cx="964.8" cy="556.4" rx="2.1" ry="1.2" transform="rotate(-28 964.8 556.4)" fill="#fff" stroke="#2a2a2a" stroke-width="0.85"/>
<ellipse cx="969.1" cy="553.9" rx="2.1" ry="1.2" transform="rotate(-28 969.1 553.9)" fill="#fff" stroke="#2a2a2a" stroke-width="0.85"/>
<ellipse cx="969.1" cy="553.9" rx="1.2" ry="0.7" transform="rotate(-28 969.1 553.9)" fill="#222" stroke="#2a2a2a" stroke-width="0.4"/>
<ellipse cx="973.4" cy="551.5" rx="2.1" ry="1.2" transform="rotate(-28 973.4 551.5)" fill="#fff" stroke="#2a2a2a" stroke-width="0.85"/>
<ellipse cx="973.4" cy="551.5" rx="1.2" ry="0.7" transform="rotate(-28 973.4 551.5)" fill="#222" stroke="#2a2a2a" stroke-width="0.4"/>
<ellipse cx="977.7" cy="549" rx="2.1" ry="1.2" transform="rotate(-28 977.7 549)" fill="#fff" stroke="#2a2a2a" stroke-width="0.85"/>
<ellipse cx="976.4" cy="563" rx="2.1" ry="1.2" transform="rotate(-28 976.4 563)" fill="#fff" stroke="#2a2a2a" stroke-width="0.85"/>
<ellipse cx="980.7" cy="560.5" rx="2.1" ry="1.2" transform="rotate(-28 980.7 560.5)" fill="#fff" stroke="#2a2a2a" stroke-width="0.85"/>
<ellipse cx="980.7" cy="560.5" rx="1.2" ry="0.7" transform="rotate(-28 980.7 560.5)" fill="#222" stroke="#2a2a2a" stroke-width="0.4"/>
<ellipse cx="985" cy="558.1" rx="2.1" ry="1.2" transform="rotate(-28 985 558.1)" fill="#fff" stroke="#2a2a2a" stroke-width="0.85"/>
<ellipse cx="985" cy="558.1" rx="1.2" ry="0.7" transform="rotate(-28 985 558.1)" fill="#222" stroke="#2a2a2a" stroke-width="0.4"/>
<ellipse cx="989.3" cy="555.6" rx="2.1" ry="1.2" transform="rotate(-28 989.3 555.6)" fill="#fff" stroke="#2a2a2a" stroke-width="0.85"/>
<line x1="891.5" y1="517.6" x2="877.5" y2="510" stroke="#333" stroke-width="0.5" />
<line x1="910.8" y1="506.4" x2="897" y2="498.8" stroke="#333" stroke-width="0.5" />
<line x1="879" y1="510.8" x2="898.5" y2="499.6" stroke="#333" stroke-width="0.55" />
<polygon points="898.5,499.6 895.9,502.3 894.8,500.4" fill="#333"/>
<polygon points="879,510.8 881.6,508.1 882.7,510" fill="#333"/>
<text x="884.3" y="502.6" font-family="Liberation Sans" font-size="9.6" font-weight="normal" font-style="italic" fill="#555" text-anchor="start" textLength="10.5" lengthAdjust="spacingAndGlyphs" transform="rotate(-30 884.3 502.6)" >40</text>
<line x1="910.8" y1="506.4" x2="917.5" y2="499.5" stroke="#333" stroke-width="0.5" />
<line x1="1003.8" y1="557.8" x2="1011.5" y2="550" stroke="#333" stroke-width="0.5" />
<line x1="915.5" y1="500.5" x2="1010.5" y2="552" stroke="#333" stroke-width="0.55" />
<polygon points="1010.5,552 1006.8,551.3 1007.9,549.3" fill="#333"/>
<polygon points="915.5,500.5 919.2,501.2 918.1,503.2" fill="#333"/>
<text x="962.8" y="517.4" font-family="Liberation Sans" font-size="9.6" font-weight="normal" font-style="italic" fill="#555" text-anchor="start" textLength="17.5" lengthAdjust="spacingAndGlyphs" transform="rotate(30 962.8 517.4)" >160</text>
<line x1="1003.8" y1="557.8" x2="1017.5" y2="552" stroke="#333" stroke-width="0.5" />
<line x1="1003.8" y1="564.1" x2="1017.5" y2="565" stroke="#333" stroke-width="0.5" />
<line x1="1016.5" y1="556" x2="1016.5" y2="570" stroke="#333" stroke-width="0.55" />
<polygon points="1016.5,570 1015.4,566.4 1017.6,566.4" fill="#333"/>
<polygon points="1016.5,556 1017.6,559.6 1015.4,559.6" fill="#333"/>
<text x="1019" y="570" font-family="Liberation Sans" font-size="10.4" font-style="italic" fill="#555" textLength="5" lengthAdjust="spacingAndGlyphs" transform="translate(1019,570) skewY(-30) translate(-1019,-570)">8</text>
<text x="851.8" y="486.4" font-family="Liberation Sans" font-size="13.2" font-weight="bold" font-style="normal" fill="#1e1e1e" text-anchor="start" textLength="48.5" lengthAdjust="spacingAndGlyphs" transform="rotate(-31.5 851.8 486.4)" >4 Kanal-</text>
<text x="835.2" y="514.4" font-family="Liberation Sans" font-size="10.8" font-weight="normal" font-style="normal" fill="#2a2a2a" text-anchor="start" textLength="105" lengthAdjust="spacingAndGlyphs" transform="rotate(-28.8 835.2 514.4)" >Funkfernbedienung</text>
<polygon points="789.8,585.6 836.2,611.5 862.2,596.1 862.2,601.7 836.2,617.1 789.8,591.2" fill="#f4f4f4" stroke="#2a2a2a" stroke-width="0" stroke-linejoin="round" />
<path d="M792.42,592.66 Q789.80,591.20 792.38,589.67 L813.22,577.33 Q815.80,575.80 818.42,577.26 L859.58,600.24 Q862.20,601.70 859.62,603.23 L838.78,615.57 Q836.20,617.10 833.58,615.64 Z" fill="#f4f4f4" stroke="#2a2a2a" stroke-width="0.8" stroke-linejoin="round" />
<polygon points="789.8,585.6 836.2,611.5 862.2,596.1 862.2,600 836.2,615.4 789.8,589.5" fill="#f4f4f4" stroke="#2a2a2a" stroke-width="0" stroke-linejoin="round" />
<line x1="789.9" y1="585.6" x2="789.9" y2="591.2" stroke="#2a2a2a" stroke-width="0.8" />
<line x1="862.1" y1="596.1" x2="862.1" y2="601.7" stroke="#2a2a2a" stroke-width="0.8" />
<line x1="836.2" y1="613" x2="836.2" y2="617.1" stroke="#777" stroke-width="0.5" />
<path d="M792.42,589.86 Q789.80,588.40 792.38,586.87 L813.22,574.53 Q815.80,573.00 818.42,574.46 L859.58,597.44 Q862.20,598.90 859.62,600.43 L838.78,612.77 Q836.20,614.30 833.58,612.84 Z" fill="none" stroke="#2a2a2a" stroke-width="0.6" clip-path="none"/>
<path d="M792.42,587.06 Q789.80,585.60 792.38,584.07 L813.22,571.73 Q815.80,570.20 818.42,571.66 L859.58,594.64 Q862.20,596.10 859.62,597.63 L838.78,609.97 Q836.20,611.50 833.58,610.04 Z" fill="#e4e4e4" stroke="#2a2a2a" stroke-width="0.8" stroke-linejoin="round" />
<ellipse cx="822.9" cy="589" rx="14.4" ry="8.7" transform="rotate(-4 822.9 589)" fill="none" stroke="#2a2a2a" stroke-width="0.9"/>
<ellipse cx="822.9" cy="589.2" rx="12.6" ry="7.4" transform="rotate(-4 822.9 589.2)" fill="none" stroke="#2a2a2a" stroke-width="0.8"/>
<path d="M832.5,594.5 L834.8,596.6 L831.8,596.6 Z" fill="#222"/>
<rect x="827" y="592" width="9" height="6" fill="#e4e4e4" transform="rotate(-25 831 595)"/>
<ellipse cx="823" cy="588.6" rx="5.6" ry="4.1" transform="rotate(-4 823 588.6)" fill="#e4e4e4" stroke="#2a2a2a" stroke-width="0.8"/>
<ellipse cx="829.9" cy="585.3" rx="5" ry="3.3" transform="rotate(-4 829.9 585.3)" fill="#e4e4e4" stroke="#2a2a2a" stroke-width="0.8"/>
<line x1="822.5" y1="581.2" x2="823.2" y2="584.5" stroke="#2a2a2a" stroke-width="0.7" />
<ellipse cx="846.7" cy="592" rx="2.6" ry="1.7" transform="rotate(-10 846.7 592)" fill="#444" stroke="#2a2a2a" stroke-width="0.7"/>
<ellipse cx="831.5" cy="601.3" rx="2.6" ry="1.7" transform="rotate(-10 831.5 601.3)" fill="#444" stroke="#2a2a2a" stroke-width="0.7"/>
<ellipse cx="842.8" cy="600.5" rx="2.6" ry="1.7" transform="rotate(-10 842.8 600.5)" fill="#444" stroke="#2a2a2a" stroke-width="0.7"/>
<line x1="789.8" y1="585.6" x2="775" y2="577.5" stroke="#333" stroke-width="0.5" />
<line x1="815.8" y1="570.2" x2="801.5" y2="562.5" stroke="#333" stroke-width="0.5" />
<line x1="776.5" y1="578" x2="803" y2="562.8" stroke="#333" stroke-width="0.55" />
<polygon points="803,562.8 800.4,565.5 799.3,563.6" fill="#333"/>
<polygon points="776.5,578 779.1,575.3 780.2,577.2" fill="#333"/>
<text x="784" y="570.5" font-family="Liberation Sans" font-size="9.6" font-weight="normal" font-style="italic" fill="#555" text-anchor="start" textLength="10.5" lengthAdjust="spacingAndGlyphs" transform="rotate(-30 784 570.5)" >50</text>
<line x1="815.8" y1="570.2" x2="822" y2="563.8" stroke="#333" stroke-width="0.5" />
<line x1="862.2" y1="596.1" x2="875" y2="590" stroke="#333" stroke-width="0.5" />
<line x1="826" y1="563.3" x2="873.5" y2="590" stroke="#333" stroke-width="0.55" />
<polygon points="873.5,590 869.8,589.2 870.9,587.3" fill="#333"/>
<polygon points="826,563.3 829.7,564.1 828.6,566" fill="#333"/>
<text x="849" y="572.5" font-family="Liberation Sans" font-size="9.6" font-weight="normal" font-style="italic" fill="#555" text-anchor="start" textLength="11" lengthAdjust="spacingAndGlyphs" transform="rotate(30 849 572.5)" >86</text>
<line x1="862.2" y1="596.1" x2="876.5" y2="600" stroke="#333" stroke-width="0.5" />
<line x1="862.2" y1="601.7" x2="876.5" y2="607.5" stroke="#333" stroke-width="0.5" />
<line x1="874.5" y1="595.5" x2="874.5" y2="614" stroke="#333" stroke-width="0.55" />
<polygon points="874.5,614 873.4,610.4 875.6,610.4" fill="#333"/>
<polygon points="874.5,595.5 875.6,599.1 873.4,599.1" fill="#333"/>
<text x="877.8" y="609" font-family="Liberation Sans" font-size="10.4" font-style="italic" fill="#555" textLength="5" lengthAdjust="spacingAndGlyphs" transform="translate(877.8,609) skewY(-30) translate(-877.8,-609)">8</text>
<text x="747.6" y="546.4" font-family="Liberation Sans" font-size="13.2" font-weight="bold" font-style="normal" fill="#1e1e1e" text-anchor="start" textLength="43.5" lengthAdjust="spacingAndGlyphs" transform="rotate(-31 747.6 546.4)" >Anbau-</text>
<text x="728.3" y="573.9" font-family="Liberation Sans" font-size="10.8" font-weight="normal" font-style="normal" fill="#2a2a2a" text-anchor="start" textLength="105" lengthAdjust="spacingAndGlyphs" transform="rotate(-28.8 728.3 573.9)" >Funkfernbedienung</text>
<ellipse cx="688.3" cy="661.6" rx="13.8" ry="4.6" transform="rotate(-3 688.3 661.6)" fill="#dedede" stroke="#2a2a2a" stroke-width="0.9"/>
<polygon points="674.5,652 702.1,652 702.1,661.4 674.5,661.8" fill="#dedede" stroke="#2a2a2a" stroke-width="0" stroke-linejoin="round" />
<line x1="674.5" y1="652" x2="674.5" y2="661.8" stroke="#2a2a2a" stroke-width="0.9" />
<line x1="702.1" y1="651" x2="702.1" y2="661.2" stroke="#2a2a2a" stroke-width="0.9" />
<polygon points="675,652 701.6,652 701.6,657 675,657.5" fill="#f4f4f4" stroke="#2a2a2a" stroke-width="0" stroke-linejoin="round" />
<ellipse cx="688.6" cy="649.6" rx="16.4" ry="8" transform="rotate(-3 688.6 649.6)" fill="#fff" stroke="#2a2a2a" stroke-width="0.9"/>
<ellipse cx="688.6" cy="647.8" rx="16.4" ry="8" transform="rotate(-3 688.6 647.8)" fill="#f2f2f2" stroke="#2a2a2a" stroke-width="1.0"/>
<ellipse cx="688.6" cy="648" rx="13.4" ry="6" transform="rotate(-3 688.6 648)" fill="#e4e4e4" stroke="#2a2a2a" stroke-width="0.9"/>
<ellipse cx="688.8" cy="648.1" rx="10.6" ry="4.6" transform="rotate(-3 688.8 648.1)" fill="#c8c8c8" stroke="#2a2a2a" stroke-width="1.0"/>
<ellipse cx="689" cy="648.3" rx="7.4" ry="3.2" transform="rotate(-3 689 648.3)" fill="#f6f6f6" stroke="#2a2a2a" stroke-width="0.9"/>
<polygon points="685,646.6 693.4,646.4 693.4,650.4 685,650.6" fill="#d0d0d0" stroke="#2a2a2a" stroke-width="0.7" stroke-linejoin="round" />
<line x1="672.5" y1="651.5" x2="657.5" y2="643.4" stroke="#333" stroke-width="0.5" />
<line x1="697.2" y1="639.8" x2="680.5" y2="630.8" stroke="#333" stroke-width="0.5" />
<line x1="658.2" y1="643.4" x2="680.2" y2="631" stroke="#333" stroke-width="0.55" />
<polygon points="680.2,631 677.6,633.7 676.5,631.8" fill="#333"/>
<polygon points="658.2,643.4 660.8,640.7 661.9,642.6" fill="#333"/>
<text x="660.2" y="638.5" font-family="Liberation Sans" font-size="9.8" font-weight="normal" font-style="italic" fill="#555" text-anchor="start" textLength="19" lengthAdjust="spacingAndGlyphs" transform="rotate(-30 660.2 638.5)" >ø 40</text>
<line x1="674.2" y1="657" x2="658.4" y2="664.6" stroke="#333" stroke-width="0.5" />
<line x1="699" y1="664.2" x2="678.8" y2="675" stroke="#333" stroke-width="0.5" />
<line x1="659.2" y1="664.4" x2="679.2" y2="674.8" stroke="#333" stroke-width="0.55" />
<polygon points="679.2,674.8 675.5,674.1 676.5,672.2" fill="#333"/>
<polygon points="659.2,664.4 662.9,665.1 661.9,667" fill="#333"/>
<text x="660.6" y="671.8" font-family="Liberation Sans" font-size="9.8" font-weight="normal" font-style="italic" fill="#555" text-anchor="start" textLength="19.5" lengthAdjust="spacingAndGlyphs" transform="rotate(30 660.6 671.8)" >ø 35</text>
<line x1="703.5" y1="650.5" x2="728" y2="671.5" stroke="#333" stroke-width="0.5" />
<line x1="702" y1="657.5" x2="728" y2="681" stroke="#333" stroke-width="0.5" />
<line x1="715.5" y1="647" x2="715.5" y2="672" stroke="#333" stroke-width="0.55" />
<polygon points="715.5,660.5 714.4,656.9 716.6,656.9" fill="#333"/>
<polygon points="715.5,664 716.6,667.6 714.4,667.6" fill="#333"/>
<text x="716.8" y="653.8" font-family="Liberation Sans" font-size="10.4" font-style="italic" fill="#555" textLength="10.2" lengthAdjust="spacingAndGlyphs" transform="translate(716.8,653.8) skewY(30) translate(-716.8,-653.8)">3,3</text>
<line x1="727.5" y1="662" x2="727.5" y2="693" stroke="#333" stroke-width="0.55" />
<polygon points="727.5,671 726.4,667.4 728.6,667.4" fill="#333"/>
<polygon points="727.5,681 728.6,684.6 726.4,684.6" fill="#333"/>
<text x="730.6" y="682.8" font-family="Liberation Sans" font-size="10.4" font-style="italic" fill="#555" textLength="7.8" lengthAdjust="spacingAndGlyphs" transform="translate(730.6,682.8) skewY(30) translate(-730.6,-682.8)">12</text>
<text x="626.5" y="616.5" font-family="Liberation Sans" font-size="13.2" font-weight="bold" font-style="normal" fill="#1e1e1e" text-anchor="start" textLength="44.5" lengthAdjust="spacingAndGlyphs" transform="rotate(-31 626.5 616.5)" >Einbau-</text>
<text x="608.7" y="644.3" font-family="Liberation Sans" font-size="10.8" font-weight="normal" font-style="normal" fill="#2a2a2a" text-anchor="start" textLength="105" lengthAdjust="spacingAndGlyphs" transform="rotate(-28.8 608.7 644.3)" >Funkfernbedienung</text>
<line x1="547" y1="744.5" x2="513.8" y2="761.2" stroke="#2a2a2a" stroke-width="2.4" stroke-linecap="butt"/>
<line x1="547" y1="744.5" x2="514.0999999999999" y2="761.0" stroke="#fff" stroke-width="0.9"/>
<polygon points="513.2,761.6 514.7,759.7 515.6,761.5" fill="#2a2a2a"/>
<line x1="548.5" y1="746.5" x2="518.2" y2="766.5" stroke="#2a2a2a" stroke-width="2.4" stroke-linecap="butt"/>
<line x1="548.5" y1="746.5" x2="518.5" y2="766.3" stroke="#fff" stroke-width="0.9"/>
<polygon points="517.6,766.9 518.9,764.9 520,766.5" fill="#2a2a2a"/>
<polygon points="530.4,730.9 552.9,745 580.7,729.4 580.7,734.8 552.9,750.4 530.4,736.3" fill="#f6f6f6" stroke="#2a2a2a" stroke-width="0" stroke-linejoin="round" />
<path d="M532.52,737.63 Q530.40,736.30 532.60,735.11 L553.60,723.79 Q555.80,722.60 558.05,723.70 L578.45,733.70 Q580.70,734.80 578.52,736.02 L555.08,749.18 Q552.90,750.40 550.78,749.07 Z" fill="#f6f6f6" stroke="#2a2a2a" stroke-width="0.8" stroke-linejoin="round" />
<polygon points="530.4,730.9 552.9,745 580.7,729.4 580.7,733.2 552.9,748.8 530.4,734.7" fill="#f6f6f6" stroke="#2a2a2a" stroke-width="0" stroke-linejoin="round" />
<line x1="530.5" y1="730.9" x2="530.5" y2="736.3" stroke="#2a2a2a" stroke-width="0.8" />
<line x1="580.6" y1="729.4" x2="580.6" y2="734.8" stroke="#2a2a2a" stroke-width="0.8" />
<line x1="552.9" y1="746.2" x2="552.9" y2="750.4" stroke="#777" stroke-width="0.5" />
<path d="M532.52,732.23 Q530.40,730.90 532.60,729.71 L553.60,718.39 Q555.80,717.20 558.05,718.30 L578.45,728.30 Q580.70,729.40 578.52,730.62 L555.08,743.78 Q552.90,745.00 550.78,743.67 Z" fill="#e6e6e6" stroke="#2a2a2a" stroke-width="0.8" stroke-linejoin="round" />
<polygon points="531,731.2 542.5,725 553.8,732 542.2,738.3" fill="#fff" stroke="#2a2a2a" stroke-width="0.7" stroke-linejoin="round" />
<line x1="536.5" y1="728.3" x2="547.8" y2="735.3" stroke="#2a2a2a" stroke-width="0.6" />
<line x1="536" y1="734.5" x2="547.5" y2="728.2" stroke="#2a2a2a" stroke-width="0.5" />
<line x1="532.4" y1="733.5" x2="532.8" y2="736.3" stroke="#222" stroke-width="1.3" />
<line x1="535.3" y1="735.1" x2="535.7" y2="737.9" stroke="#222" stroke-width="1.3" />
<line x1="538.2" y1="736.7" x2="538.6" y2="739.5" stroke="#222" stroke-width="1.3" />
<line x1="541.1" y1="738.3" x2="541.5" y2="741.1" stroke="#222" stroke-width="1.3" />
<line x1="527.5" y1="730.5" x2="516.7" y2="724.2" stroke="#333" stroke-width="0.5" />
<line x1="555.8" y1="714.5" x2="545" y2="708.5" stroke="#333" stroke-width="0.5" />
<line x1="517.5" y1="723.6" x2="545" y2="708.9" stroke="#333" stroke-width="0.55" />
<polygon points="545,708.9 542.3,711.6 541.3,709.6" fill="#333"/>
<polygon points="517.5,723.6 520.2,720.9 521.2,722.9" fill="#333"/>
<text x="524.2" y="716.4" font-family="Liberation Sans" font-size="10.4" font-weight="normal" font-style="italic" fill="#555" text-anchor="start" textLength="9.8" lengthAdjust="spacingAndGlyphs" transform="rotate(-30 524.2 716.4)" >41</text>
<line x1="558.2" y1="714.8" x2="568.5" y2="708.7" stroke="#333" stroke-width="0.5" />
<line x1="581.2" y1="729.4" x2="593.4" y2="722.4" stroke="#333" stroke-width="0.5" />
<line x1="568.5" y1="708.9" x2="593.2" y2="722.6" stroke="#333" stroke-width="0.55" />
<polygon points="593.2,722.6 589.5,721.8 590.6,719.9" fill="#333"/>
<polygon points="568.5,708.9 572.2,709.7 571.1,711.6" fill="#333"/>
<text x="579.6" y="709.6" font-family="Liberation Sans" font-size="9.8" font-weight="normal" font-style="italic" fill="#555" text-anchor="start" textLength="11" lengthAdjust="spacingAndGlyphs" transform="rotate(30 579.6 709.6)" >40</text>
<line x1="582.1" y1="729.4" x2="592" y2="734.3" stroke="#333" stroke-width="0.5" />
<line x1="582.1" y1="735.3" x2="592" y2="740.2" stroke="#333" stroke-width="0.5" />
<line x1="591.9" y1="727.6" x2="591.9" y2="748" stroke="#333" stroke-width="0.55" />
<polygon points="591.9,748 590.8,744.4 593,744.4" fill="#333"/>
<polygon points="591.9,727.6 593,731.2 590.8,731.2" fill="#333"/>
<text x="596" y="741.4" font-family="Liberation Sans" font-size="10.6" font-style="italic" fill="#555" textLength="7.4" lengthAdjust="spacingAndGlyphs" transform="translate(596,741.4) skewY(-30) translate(-596,-741.4)">11</text>
<text x="466.6" y="724.8" font-family="Liberation Sans" font-size="12.5" font-weight="bold" font-style="normal" fill="#1e1e1e" text-anchor="start" textLength="118" lengthAdjust="spacingAndGlyphs" transform="rotate(-29.6 466.6 724.8)" >UP Funk-Tast-Modul</text>
</svg>
</body></html>
